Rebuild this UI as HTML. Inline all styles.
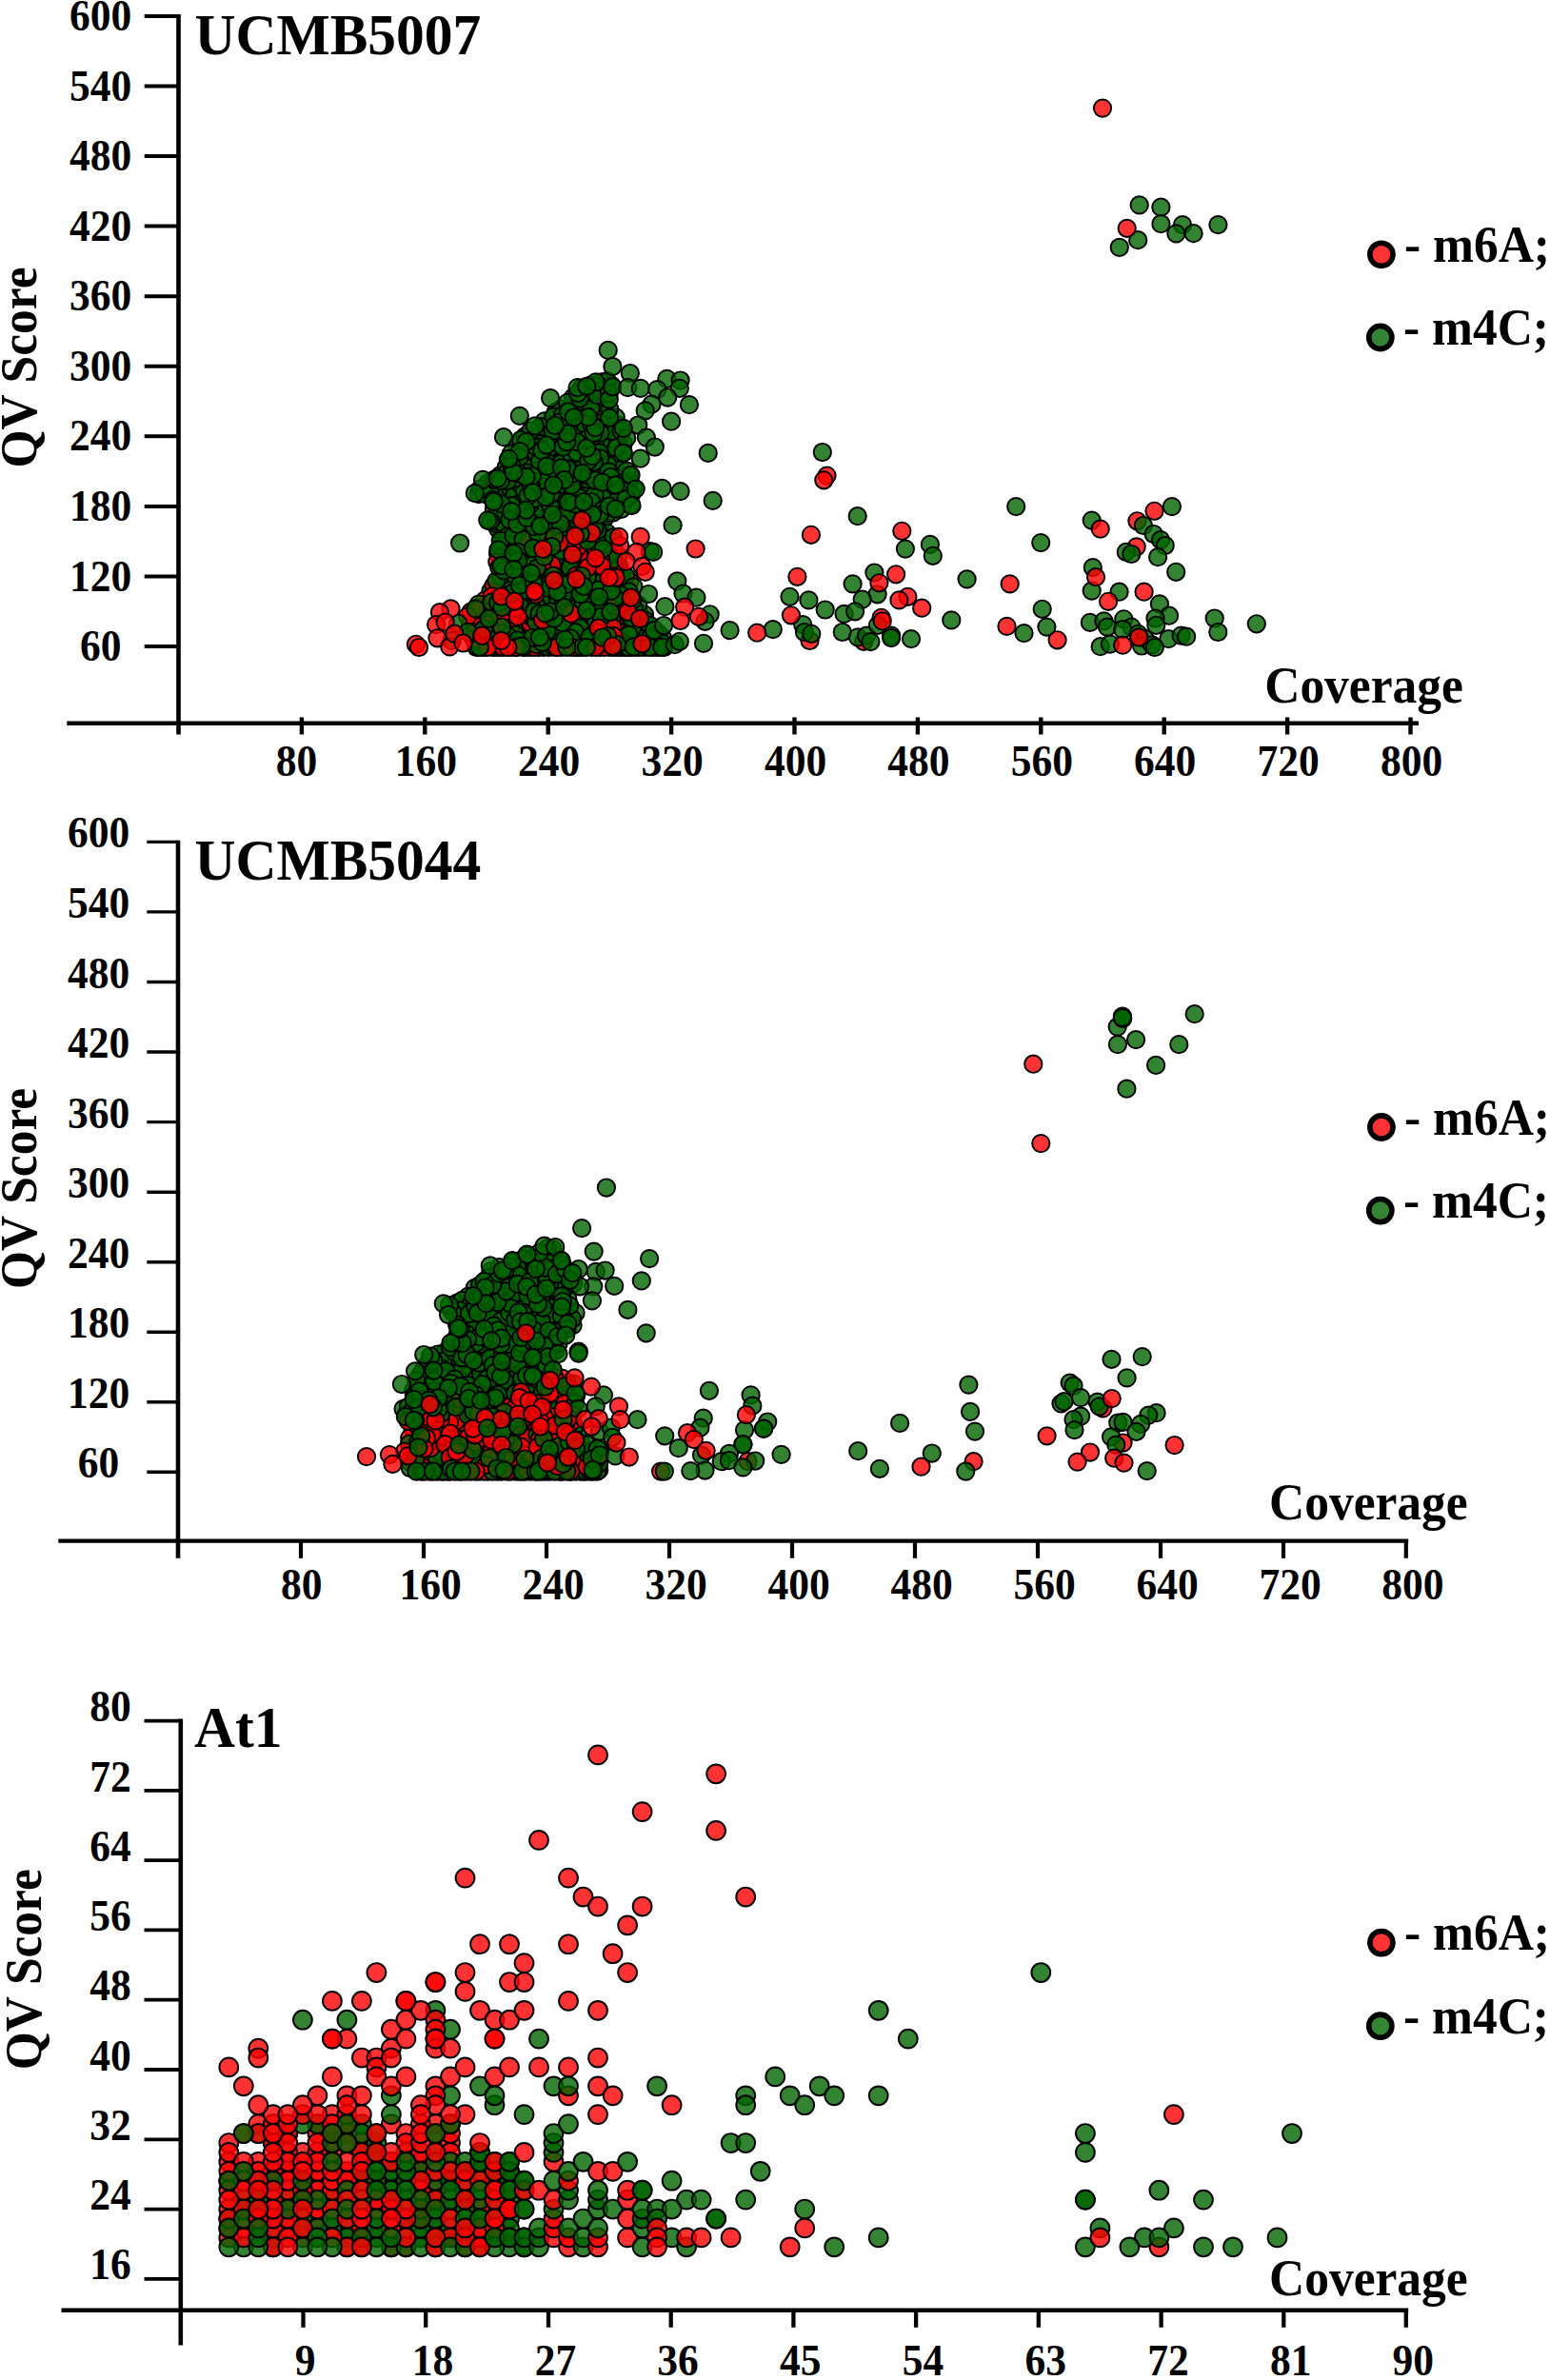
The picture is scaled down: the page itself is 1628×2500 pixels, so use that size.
<!DOCTYPE html>
<html lang="en">
<head>
<meta charset="utf-8">
<title>QV Score vs Coverage</title>
<style>
html,body{margin:0;padding:0;background:#fff;}
svg{display:block;}
.r{fill:#ff0000;}
.g{fill:#006400;}
#pts circle{fill-opacity:0.8;stroke:#000;stroke-width:1.95;}
</style>
</head>
<body>
<svg width="1628" height="2500" viewBox="0 0 1628 2500">
<rect width="1628" height="2500" fill="#fff"/>
<g id="pts">
<circle class="g" cx="607.3" cy="671.7" r="9.15"/><circle class="g" cx="564.1" cy="530.8" r="9.15"/><circle class="g" cx="563.7" cy="496.8" r="9.15"/><circle class="r" cx="537.8" cy="657.1" r="9.15"/><circle class="g" cx="631.5" cy="548.5" r="9.15"/><circle class="g" cx="688.5" cy="670.1" r="9.15"/><circle class="g" cx="568.1" cy="511.0" r="9.15"/><circle class="g" cx="517.7" cy="680.0" r="9.15"/><circle class="g" cx="624.2" cy="498.9" r="9.15"/><circle class="g" cx="648.1" cy="524.6" r="9.15"/><circle class="g" cx="644.6" cy="458.3" r="9.15"/><circle class="g" cx="546.1" cy="519.0" r="9.15"/><circle class="g" cx="526.7" cy="542.9" r="9.15"/><circle class="r" cx="615.0" cy="654.6" r="9.15"/><circle class="r" cx="504.8" cy="666.1" r="9.15"/><circle class="g" cx="609.9" cy="458.4" r="9.15"/><circle class="g" cx="583.9" cy="432.6" r="9.15"/><circle class="r" cx="657.0" cy="635.7" r="9.15"/><circle class="g" cx="623.0" cy="465.3" r="9.15"/><circle class="g" cx="553.3" cy="558.7" r="9.15"/><circle class="g" cx="609.1" cy="469.2" r="9.15"/><circle class="g" cx="493.6" cy="659.2" r="9.15"/><circle class="g" cx="624.4" cy="472.5" r="9.15"/><circle class="g" cx="630.4" cy="680.0" r="9.15"/><circle class="g" cx="627.3" cy="430.5" r="9.15"/><circle class="g" cx="585.0" cy="666.8" r="9.15"/><circle class="g" cx="622.6" cy="513.8" r="9.15"/><circle class="g" cx="638.3" cy="445.5" r="9.15"/><circle class="g" cx="629.0" cy="525.7" r="9.15"/><circle class="g" cx="566.4" cy="544.8" r="9.15"/><circle class="g" cx="632.2" cy="615.5" r="9.15"/><circle class="g" cx="639.1" cy="676.6" r="9.15"/><circle class="g" cx="589.0" cy="459.3" r="9.15"/><circle class="g" cx="662.7" cy="680.0" r="9.15"/><circle class="g" cx="621.5" cy="600.9" r="9.15"/><circle class="g" cx="578.0" cy="560.4" r="9.15"/><circle class="g" cx="612.6" cy="464.9" r="9.15"/><circle class="g" cx="543.4" cy="467.5" r="9.15"/><circle class="g" cx="588.4" cy="616.9" r="9.15"/><circle class="g" cx="586.5" cy="451.9" r="9.15"/><circle class="g" cx="506.8" cy="639.2" r="9.15"/><circle class="g" cx="584.9" cy="484.4" r="9.15"/><circle class="g" cx="515.5" cy="620.6" r="9.15"/><circle class="g" cx="545.7" cy="626.1" r="9.15"/><circle class="g" cx="639.5" cy="506.7" r="9.15"/><circle class="g" cx="598.4" cy="470.7" r="9.15"/><circle class="g" cx="634.6" cy="428.4" r="9.15"/><circle class="g" cx="547.3" cy="664.4" r="9.15"/><circle class="g" cx="584.6" cy="590.7" r="9.15"/><circle class="g" cx="633.1" cy="582.2" r="9.15"/><circle class="g" cx="635.2" cy="544.0" r="9.15"/><circle class="g" cx="524.1" cy="522.1" r="9.15"/><circle class="g" cx="603.6" cy="649.8" r="9.15"/><circle class="r" cx="495.2" cy="652.2" r="9.15"/><circle class="r" cx="548.1" cy="652.6" r="9.15"/><circle class="g" cx="531.3" cy="576.3" r="9.15"/><circle class="g" cx="567.3" cy="657.4" r="9.15"/><circle class="g" cx="636.3" cy="661.5" r="9.15"/><circle class="g" cx="570.5" cy="535.6" r="9.15"/><circle class="g" cx="559.6" cy="484.8" r="9.15"/><circle class="g" cx="550.3" cy="671.3" r="9.15"/><circle class="g" cx="592.7" cy="522.4" r="9.15"/><circle class="g" cx="640.6" cy="471.1" r="9.15"/><circle class="g" cx="649.8" cy="618.3" r="9.15"/><circle class="g" cx="677.7" cy="674.8" r="9.15"/><circle class="g" cx="560.8" cy="542.5" r="9.15"/><circle class="g" cx="590.8" cy="661.8" r="9.15"/><circle class="g" cx="624.4" cy="644.1" r="9.15"/><circle class="r" cx="517.2" cy="651.4" r="9.15"/><circle class="g" cx="616.1" cy="453.6" r="9.15"/><circle class="g" cx="606.5" cy="511.9" r="9.15"/><circle class="g" cx="628.0" cy="510.3" r="9.15"/><circle class="g" cx="634.4" cy="471.7" r="9.15"/><circle class="g" cx="604.7" cy="424.3" r="9.15"/><circle class="r" cx="508.1" cy="680.0" r="9.15"/><circle class="g" cx="554.6" cy="666.5" r="9.15"/><circle class="g" cx="595.4" cy="482.1" r="9.15"/><circle class="g" cx="634.9" cy="622.0" r="9.15"/><circle class="g" cx="640.3" cy="680.0" r="9.15"/><circle class="g" cx="571.8" cy="442.4" r="9.15"/><circle class="g" cx="574.9" cy="514.1" r="9.15"/><circle class="g" cx="635.9" cy="655.3" r="9.15"/><circle class="r" cx="610.7" cy="640.0" r="9.15"/><circle class="g" cx="583.6" cy="598.8" r="9.15"/><circle class="r" cx="510.1" cy="648.5" r="9.15"/><circle class="g" cx="594.2" cy="569.5" r="9.15"/><circle class="g" cx="697.4" cy="680.0" r="9.15"/><circle class="r" cx="610.0" cy="679.5" r="9.15"/><circle class="g" cx="581.2" cy="479.3" r="9.15"/><circle class="r" cx="518.6" cy="677.2" r="9.15"/><circle class="g" cx="644.2" cy="538.3" r="9.15"/><circle class="r" cx="596.1" cy="619.6" r="9.15"/><circle class="g" cx="633.3" cy="496.0" r="9.15"/><circle class="g" cx="609.5" cy="611.2" r="9.15"/><circle class="g" cx="551.4" cy="458.3" r="9.15"/><circle class="g" cx="636.6" cy="629.4" r="9.15"/><circle class="g" cx="605.7" cy="445.2" r="9.15"/><circle class="g" cx="579.9" cy="549.9" r="9.15"/><circle class="g" cx="569.0" cy="526.9" r="9.15"/><circle class="g" cx="588.1" cy="646.8" r="9.15"/><circle class="g" cx="588.3" cy="562.5" r="9.15"/><circle class="g" cx="615.7" cy="432.2" r="9.15"/><circle class="g" cx="550.3" cy="630.1" r="9.15"/><circle class="g" cx="624.1" cy="439.0" r="9.15"/><circle class="r" cx="522.5" cy="655.5" r="9.15"/><circle class="g" cx="539.1" cy="507.8" r="9.15"/><circle class="g" cx="634.3" cy="527.6" r="9.15"/><circle class="g" cx="545.0" cy="571.9" r="9.15"/><circle class="g" cx="582.1" cy="579.9" r="9.15"/><circle class="r" cx="503.4" cy="655.9" r="9.15"/><circle class="g" cx="522.3" cy="672.9" r="9.15"/><circle class="g" cx="654.1" cy="500.4" r="9.15"/><circle class="g" cx="561.8" cy="460.9" r="9.15"/><circle class="g" cx="534.0" cy="595.9" r="9.15"/><circle class="g" cx="665.6" cy="512.2" r="9.15"/><circle class="r" cx="671.1" cy="643.4" r="9.15"/><circle class="g" cx="610.1" cy="433.1" r="9.15"/><circle class="g" cx="583.4" cy="491.3" r="9.15"/><circle class="r" cx="633.3" cy="565.4" r="9.15"/><circle class="g" cx="523.0" cy="581.6" r="9.15"/><circle class="g" cx="636.7" cy="408.5" r="9.15"/><circle class="g" cx="604.4" cy="505.0" r="9.15"/><circle class="r" cx="590.1" cy="608.2" r="9.15"/><circle class="g" cx="639.6" cy="513.9" r="9.15"/><circle class="g" cx="649.9" cy="594.4" r="9.15"/><circle class="g" cx="584.7" cy="555.4" r="9.15"/><circle class="g" cx="574.9" cy="578.9" r="9.15"/><circle class="g" cx="538.3" cy="592.0" r="9.15"/><circle class="g" cx="633.4" cy="419.3" r="9.15"/><circle class="g" cx="574.5" cy="544.7" r="9.15"/><circle class="g" cx="571.3" cy="610.2" r="9.15"/><circle class="g" cx="539.5" cy="570.4" r="9.15"/><circle class="g" cx="500.4" cy="678.4" r="9.15"/><circle class="g" cx="604.7" cy="680.0" r="9.15"/><circle class="g" cx="669.7" cy="662.2" r="9.15"/><circle class="g" cx="571.2" cy="452.9" r="9.15"/><circle class="g" cx="542.9" cy="610.2" r="9.15"/><circle class="g" cx="659.8" cy="673.9" r="9.15"/><circle class="g" cx="575.7" cy="473.7" r="9.15"/><circle class="r" cx="661.4" cy="610.7" r="9.15"/><circle class="g" cx="556.7" cy="677.7" r="9.15"/><circle class="g" cx="549.1" cy="524.8" r="9.15"/><circle class="g" cx="591.8" cy="591.8" r="9.15"/><circle class="g" cx="652.6" cy="680.0" r="9.15"/><circle class="g" cx="528.5" cy="584.2" r="9.15"/><circle class="g" cx="629.9" cy="500.7" r="9.15"/><circle class="g" cx="650.9" cy="458.5" r="9.15"/><circle class="r" cx="499.8" cy="647.2" r="9.15"/><circle class="g" cx="567.8" cy="663.2" r="9.15"/><circle class="g" cx="579.4" cy="584.8" r="9.15"/><circle class="r" cx="638.4" cy="587.8" r="9.15"/><circle class="g" cx="627.3" cy="459.4" r="9.15"/><circle class="g" cx="572.3" cy="461.9" r="9.15"/><circle class="g" cx="655.2" cy="614.9" r="9.15"/><circle class="g" cx="661.4" cy="499.9" r="9.15"/><circle class="g" cx="600.8" cy="448.6" r="9.15"/><circle class="g" cx="649.7" cy="478.2" r="9.15"/><circle class="g" cx="635.7" cy="450.6" r="9.15"/><circle class="r" cx="509.3" cy="630.6" r="9.15"/><circle class="g" cx="520.2" cy="680.0" r="9.15"/><circle class="r" cx="572.8" cy="571.9" r="9.15"/><circle class="g" cx="548.2" cy="644.1" r="9.15"/><circle class="r" cx="589.4" cy="601.2" r="9.15"/><circle class="g" cx="618.5" cy="494.1" r="9.15"/><circle class="g" cx="653.1" cy="671.8" r="9.15"/><circle class="g" cx="677.0" cy="645.7" r="9.15"/><circle class="g" cx="612.6" cy="648.6" r="9.15"/><circle class="g" cx="552.8" cy="471.5" r="9.15"/><circle class="g" cx="562.8" cy="536.7" r="9.15"/><circle class="g" cx="637.2" cy="600.6" r="9.15"/><circle class="g" cx="631.2" cy="633.5" r="9.15"/><circle class="g" cx="649.2" cy="583.8" r="9.15"/><circle class="r" cx="576.1" cy="650.7" r="9.15"/><circle class="g" cx="648.8" cy="446.5" r="9.15"/><circle class="g" cx="618.4" cy="545.0" r="9.15"/><circle class="g" cx="583.6" cy="639.1" r="9.15"/><circle class="r" cx="534.1" cy="678.8" r="9.15"/><circle class="g" cx="662.8" cy="529.9" r="9.15"/><circle class="r" cx="540.0" cy="616.4" r="9.15"/><circle class="g" cx="588.2" cy="634.7" r="9.15"/><circle class="g" cx="638.2" cy="616.3" r="9.15"/><circle class="g" cx="549.1" cy="530.7" r="9.15"/><circle class="g" cx="585.0" cy="517.3" r="9.15"/><circle class="g" cx="654.8" cy="465.6" r="9.15"/><circle class="g" cx="609.7" cy="541.1" r="9.15"/><circle class="g" cx="577.3" cy="446.0" r="9.15"/><circle class="g" cx="597.9" cy="580.1" r="9.15"/><circle class="g" cx="587.6" cy="476.7" r="9.15"/><circle class="g" cx="590.1" cy="678.5" r="9.15"/><circle class="g" cx="597.4" cy="519.3" r="9.15"/><circle class="g" cx="587.3" cy="523.9" r="9.15"/><circle class="g" cx="546.9" cy="561.6" r="9.15"/><circle class="g" cx="655.8" cy="656.1" r="9.15"/><circle class="r" cx="629.3" cy="600.0" r="9.15"/><circle class="g" cx="615.0" cy="622.0" r="9.15"/><circle class="g" cx="601.4" cy="656.0" r="9.15"/><circle class="g" cx="629.5" cy="467.3" r="9.15"/><circle class="g" cx="610.5" cy="505.0" r="9.15"/><circle class="g" cx="631.7" cy="401.3" r="9.15"/><circle class="g" cx="556.5" cy="530.1" r="9.15"/><circle class="g" cx="594.7" cy="443.5" r="9.15"/><circle class="g" cx="602.0" cy="489.2" r="9.15"/><circle class="g" cx="542.1" cy="568.7" r="9.15"/><circle class="g" cx="686.2" cy="678.9" r="9.15"/><circle class="g" cx="636.8" cy="461.8" r="9.15"/><circle class="r" cx="621.1" cy="624.2" r="9.15"/><circle class="g" cx="566.7" cy="456.4" r="9.15"/><circle class="g" cx="660.8" cy="505.7" r="9.15"/><circle class="g" cx="636.2" cy="635.9" r="9.15"/><circle class="g" cx="550.9" cy="593.1" r="9.15"/><circle class="g" cx="638.0" cy="481.2" r="9.15"/><circle class="g" cx="556.5" cy="564.9" r="9.15"/><circle class="g" cx="637.6" cy="559.8" r="9.15"/><circle class="g" cx="602.0" cy="522.4" r="9.15"/><circle class="g" cx="551.7" cy="572.0" r="9.15"/><circle class="g" cx="567.3" cy="577.8" r="9.15"/><circle class="g" cx="666.0" cy="654.7" r="9.15"/><circle class="r" cx="525.0" cy="680.0" r="9.15"/><circle class="g" cx="645.9" cy="497.5" r="9.15"/><circle class="g" cx="598.5" cy="503.8" r="9.15"/><circle class="g" cx="620.7" cy="404.4" r="9.15"/><circle class="g" cx="551.5" cy="552.1" r="9.15"/><circle class="r" cx="551.9" cy="661.1" r="9.15"/><circle class="g" cx="512.5" cy="642.2" r="9.15"/><circle class="g" cx="599.2" cy="638.7" r="9.15"/><circle class="g" cx="588.5" cy="561.3" r="9.15"/><circle class="g" cx="531.5" cy="518.8" r="9.15"/><circle class="g" cx="594.5" cy="475.6" r="9.15"/><circle class="g" cx="614.1" cy="513.7" r="9.15"/><circle class="g" cx="579.3" cy="679.2" r="9.15"/><circle class="g" cx="533.3" cy="603.8" r="9.15"/><circle class="g" cx="624.6" cy="672.4" r="9.15"/><circle class="g" cx="634.7" cy="610.1" r="9.15"/><circle class="g" cx="585.0" cy="466.7" r="9.15"/><circle class="g" cx="603.2" cy="615.4" r="9.15"/><circle class="g" cx="573.0" cy="670.3" r="9.15"/><circle class="g" cx="639.9" cy="573.2" r="9.15"/><circle class="g" cx="591.6" cy="543.1" r="9.15"/><circle class="g" cx="652.9" cy="609.1" r="9.15"/><circle class="g" cx="610.2" cy="479.5" r="9.15"/><circle class="g" cx="547.4" cy="503.4" r="9.15"/><circle class="g" cx="578.1" cy="484.8" r="9.15"/><circle class="g" cx="642.0" cy="404.6" r="9.15"/><circle class="g" cx="589.1" cy="429.6" r="9.15"/><circle class="g" cx="604.1" cy="622.9" r="9.15"/><circle class="g" cx="602.5" cy="458.5" r="9.15"/><circle class="g" cx="585.5" cy="538.0" r="9.15"/><circle class="g" cx="595.6" cy="555.7" r="9.15"/><circle class="g" cx="643.0" cy="464.9" r="9.15"/><circle class="r" cx="522.3" cy="590.3" r="9.15"/><circle class="g" cx="543.5" cy="541.4" r="9.15"/><circle class="g" cx="512.5" cy="507.4" r="9.15"/><circle class="r" cx="615.7" cy="677.8" r="9.15"/><circle class="r" cx="518.2" cy="645.2" r="9.15"/><circle class="g" cx="593.9" cy="563.5" r="9.15"/><circle class="r" cx="513.3" cy="656.0" r="9.15"/><circle class="r" cx="611.8" cy="598.2" r="9.15"/><circle class="r" cx="519.9" cy="667.5" r="9.15"/><circle class="r" cx="614.2" cy="577.7" r="9.15"/><circle class="r" cx="634.8" cy="680.0" r="9.15"/><circle class="g" cx="654.1" cy="528.6" r="9.15"/><circle class="g" cx="502.7" cy="519.0" r="9.15"/><circle class="r" cx="552.6" cy="648.8" r="9.15"/><circle class="g" cx="528.3" cy="513.7" r="9.15"/><circle class="g" cx="597.1" cy="548.9" r="9.15"/><circle class="g" cx="545.1" cy="490.8" r="9.15"/><circle class="g" cx="533.9" cy="483.3" r="9.15"/><circle class="g" cx="543.6" cy="657.4" r="9.15"/><circle class="g" cx="656.7" cy="650.5" r="9.15"/><circle class="g" cx="572.6" cy="480.9" r="9.15"/><circle class="r" cx="571.3" cy="638.6" r="9.15"/><circle class="r" cx="535.6" cy="662.4" r="9.15"/><circle class="g" cx="596.2" cy="605.0" r="9.15"/><circle class="g" cx="522.2" cy="509.9" r="9.15"/><circle class="g" cx="541.4" cy="666.7" r="9.15"/><circle class="g" cx="644.2" cy="477.3" r="9.15"/><circle class="g" cx="619.4" cy="506.3" r="9.15"/><circle class="g" cx="529.1" cy="652.8" r="9.15"/><circle class="g" cx="633.7" cy="438.9" r="9.15"/><circle class="g" cx="527.4" cy="561.1" r="9.15"/><circle class="g" cx="646.8" cy="487.6" r="9.15"/><circle class="g" cx="610.8" cy="407.7" r="9.15"/><circle class="g" cx="566.9" cy="465.1" r="9.15"/><circle class="g" cx="655.1" cy="662.3" r="9.15"/><circle class="g" cx="582.9" cy="614.0" r="9.15"/><circle class="g" cx="605.4" cy="517.9" r="9.15"/><circle class="g" cx="532.3" cy="525.3" r="9.15"/><circle class="g" cx="637.8" cy="400.1" r="9.15"/><circle class="g" cx="536.9" cy="476.3" r="9.15"/><circle class="g" cx="629.6" cy="475.4" r="9.15"/><circle class="g" cx="559.4" cy="559.1" r="9.15"/><circle class="g" cx="523.1" cy="642.3" r="9.15"/><circle class="g" cx="605.7" cy="483.7" r="9.15"/><circle class="g" cx="625.1" cy="567.7" r="9.15"/><circle class="g" cx="607.4" cy="680.0" r="9.15"/><circle class="g" cx="502.9" cy="634.5" r="9.15"/><circle class="g" cx="523.0" cy="516.0" r="9.15"/><circle class="g" cx="632.0" cy="433.6" r="9.15"/><circle class="g" cx="557.9" cy="469.1" r="9.15"/><circle class="g" cx="536.1" cy="513.1" r="9.15"/><circle class="g" cx="630.2" cy="519.9" r="9.15"/><circle class="g" cx="626.4" cy="406.1" r="9.15"/><circle class="g" cx="543.6" cy="535.7" r="9.15"/><circle class="g" cx="555.0" cy="493.3" r="9.15"/><circle class="g" cx="523.0" cy="555.5" r="9.15"/><circle class="g" cx="534.4" cy="566.8" r="9.15"/><circle class="g" cx="539.9" cy="482.9" r="9.15"/><circle class="g" cx="585.5" cy="529.9" r="9.15"/><circle class="g" cx="581.3" cy="437.6" r="9.15"/><circle class="g" cx="542.1" cy="513.6" r="9.15"/><circle class="g" cx="540.4" cy="520.6" r="9.15"/><circle class="g" cx="592.9" cy="450.3" r="9.15"/><circle class="g" cx="577.7" cy="502.8" r="9.15"/><circle class="g" cx="609.3" cy="451.6" r="9.15"/><circle class="g" cx="581.1" cy="630.3" r="9.15"/><circle class="g" cx="543.1" cy="530.1" r="9.15"/><circle class="r" cx="557.8" cy="629.0" r="9.15"/><circle class="g" cx="568.1" cy="517.2" r="9.15"/><circle class="g" cx="570.8" cy="498.2" r="9.15"/><circle class="r" cx="537.9" cy="578.5" r="9.15"/><circle class="g" cx="676.9" cy="680.0" r="9.15"/><circle class="g" cx="598.1" cy="679.4" r="9.15"/><circle class="g" cx="632.0" cy="514.3" r="9.15"/><circle class="g" cx="590.8" cy="535.7" r="9.15"/><circle class="g" cx="652.5" cy="493.2" r="9.15"/><circle class="g" cx="621.5" cy="680.0" r="9.15"/><circle class="g" cx="520.9" cy="550.2" r="9.15"/><circle class="g" cx="579.3" cy="460.6" r="9.15"/><circle class="g" cx="590.4" cy="514.5" r="9.15"/><circle class="g" cx="641.9" cy="521.1" r="9.15"/><circle class="g" cx="604.1" cy="552.6" r="9.15"/><circle class="g" cx="655.8" cy="678.8" r="9.15"/><circle class="g" cx="695.7" cy="669.7" r="9.15"/><circle class="r" cx="536.5" cy="629.0" r="9.15"/><circle class="g" cx="525.6" cy="499.2" r="9.15"/><circle class="r" cx="576.0" cy="598.6" r="9.15"/><circle class="g" cx="640.7" cy="595.0" r="9.15"/><circle class="g" cx="530.2" cy="555.1" r="9.15"/><circle class="g" cx="645.4" cy="570.2" r="9.15"/><circle class="r" cx="526.9" cy="664.6" r="9.15"/><circle class="g" cx="653.0" cy="512.8" r="9.15"/><circle class="g" cx="606.2" cy="629.5" r="9.15"/><circle class="g" cx="631.5" cy="444.5" r="9.15"/><circle class="g" cx="614.9" cy="489.7" r="9.15"/><circle class="g" cx="564.9" cy="490.2" r="9.15"/><circle class="g" cx="531.3" cy="611.9" r="9.15"/><circle class="g" cx="652.9" cy="601.6" r="9.15"/><circle class="g" cx="546.9" cy="509.3" r="9.15"/><circle class="g" cx="571.0" cy="561.2" r="9.15"/><circle class="r" cx="595.6" cy="633.0" r="9.15"/><circle class="g" cx="546.6" cy="546.2" r="9.15"/><circle class="g" cx="616.6" cy="476.6" r="9.15"/><circle class="r" cx="617.0" cy="584.0" r="9.15"/><circle class="g" cx="619.6" cy="574.5" r="9.15"/><circle class="g" cx="552.1" cy="484.5" r="9.15"/><circle class="g" cx="560.8" cy="588.9" r="9.15"/><circle class="g" cx="599.5" cy="427.5" r="9.15"/><circle class="g" cx="658.6" cy="515.2" r="9.15"/><circle class="g" cx="638.2" cy="488.3" r="9.15"/><circle class="g" cx="663.0" cy="519.6" r="9.15"/><circle class="g" cx="570.1" cy="600.3" r="9.15"/><circle class="g" cx="585.5" cy="545.2" r="9.15"/><circle class="r" cx="662.9" cy="636.1" r="9.15"/><circle class="g" cx="602.6" cy="675.6" r="9.15"/><circle class="g" cx="649.0" cy="502.9" r="9.15"/><circle class="g" cx="609.4" cy="568.1" r="9.15"/><circle class="g" cx="600.6" cy="609.8" r="9.15"/><circle class="g" cx="617.4" cy="531.5" r="9.15"/><circle class="g" cx="607.9" cy="490.0" r="9.15"/><circle class="g" cx="574.4" cy="507.5" r="9.15"/><circle class="g" cx="585.8" cy="500.1" r="9.15"/><circle class="g" cx="649.7" cy="642.7" r="9.15"/><circle class="g" cx="625.8" cy="533.4" r="9.15"/><circle class="g" cx="586.0" cy="672.6" r="9.15"/><circle class="g" cx="571.0" cy="680.0" r="9.15"/><circle class="g" cx="591.1" cy="435.8" r="9.15"/><circle class="g" cx="649.3" cy="680.0" r="9.15"/><circle class="g" cx="594.1" cy="585.6" r="9.15"/><circle class="g" cx="657.2" cy="605.3" r="9.15"/><circle class="g" cx="624.8" cy="424.6" r="9.15"/><circle class="g" cx="646.6" cy="531.8" r="9.15"/><circle class="g" cx="602.0" cy="541.5" r="9.15"/><circle class="r" cx="524.0" cy="679.2" r="9.15"/><circle class="g" cx="536.1" cy="554.8" r="9.15"/><circle class="r" cx="678.6" cy="663.2" r="9.15"/><circle class="g" cx="595.6" cy="649.0" r="9.15"/><circle class="g" cx="580.7" cy="661.8" r="9.15"/><circle class="r" cx="499.4" cy="664.5" r="9.15"/><circle class="g" cx="527.6" cy="548.9" r="9.15"/><circle class="r" cx="524.5" cy="616.8" r="9.15"/><circle class="g" cx="611.9" cy="561.3" r="9.15"/><circle class="g" cx="649.9" cy="655.5" r="9.15"/><circle class="g" cx="581.5" cy="525.1" r="9.15"/><circle class="g" cx="543.8" cy="566.2" r="9.15"/><circle class="g" cx="615.3" cy="556.8" r="9.15"/><circle class="g" cx="566.0" cy="680.0" r="9.15"/><circle class="g" cx="656.9" cy="680.0" r="9.15"/><circle class="g" cx="560.4" cy="663.5" r="9.15"/><circle class="g" cx="631.4" cy="490.2" r="9.15"/><circle class="r" cx="565.4" cy="571.5" r="9.15"/><circle class="g" cx="606.2" cy="546.8" r="9.15"/><circle class="g" cx="533.7" cy="668.3" r="9.15"/><circle class="g" cx="648.7" cy="464.6" r="9.15"/><circle class="g" cx="594.0" cy="510.1" r="9.15"/><circle class="r" cx="620.0" cy="591.1" r="9.15"/><circle class="g" cx="567.6" cy="448.1" r="9.15"/><circle class="r" cx="540.5" cy="677.6" r="9.15"/><circle class="r" cx="639.1" cy="648.9" r="9.15"/><circle class="g" cx="578.1" cy="531.1" r="9.15"/><circle class="r" cx="494.6" cy="642.6" r="9.15"/><circle class="g" cx="658.2" cy="494.6" r="9.15"/><circle class="g" cx="547.3" cy="599.8" r="9.15"/><circle class="g" cx="614.5" cy="521.2" r="9.15"/><circle class="g" cx="531.9" cy="490.4" r="9.15"/><circle class="g" cx="555.3" cy="479.0" r="9.15"/><circle class="g" cx="559.2" cy="567.3" r="9.15"/><circle class="g" cx="636.2" cy="521.9" r="9.15"/><circle class="r" cx="651.9" cy="631.6" r="9.15"/><circle class="g" cx="590.6" cy="485.3" r="9.15"/><circle class="r" cx="536.1" cy="680.0" r="9.15"/><circle class="r" cx="649.8" cy="637.0" r="9.15"/><circle class="g" cx="588.3" cy="585.4" r="9.15"/><circle class="g" cx="535.4" cy="642.9" r="9.15"/><circle class="g" cx="595.9" cy="657.5" r="9.15"/><circle class="g" cx="533.3" cy="563.5" r="9.15"/><circle class="r" cx="642.1" cy="635.5" r="9.15"/><circle class="g" cx="652.7" cy="534.8" r="9.15"/><circle class="g" cx="608.4" cy="522.9" r="9.15"/><circle class="r" cx="610.6" cy="665.6" r="9.15"/><circle class="g" cx="567.3" cy="605.4" r="9.15"/><circle class="r" cx="518.2" cy="638.1" r="9.15"/><circle class="g" cx="600.7" cy="477.8" r="9.15"/><circle class="g" cx="667.6" cy="669.4" r="9.15"/><circle class="r" cx="643.9" cy="577.3" r="9.15"/><circle class="g" cx="579.6" cy="672.1" r="9.15"/><circle class="g" cx="574.7" cy="553.3" r="9.15"/><circle class="r" cx="619.6" cy="630.9" r="9.15"/><circle class="g" cx="649.7" cy="517.4" r="9.15"/><circle class="g" cx="667.7" cy="680.0" r="9.15"/><circle class="g" cx="528.7" cy="674.4" r="9.15"/><circle class="r" cx="625.4" cy="664.8" r="9.15"/><circle class="g" cx="567.5" cy="615.5" r="9.15"/><circle class="g" cx="552.1" cy="680.0" r="9.15"/><circle class="g" cx="665.4" cy="616.4" r="9.15"/><circle class="g" cx="621.1" cy="414.3" r="9.15"/><circle class="g" cx="657.5" cy="523.7" r="9.15"/><circle class="r" cx="500.6" cy="640.7" r="9.15"/><circle class="g" cx="623.6" cy="637.0" r="9.15"/><circle class="g" cx="617.1" cy="663.5" r="9.15"/><circle class="g" cx="625.1" cy="548.8" r="9.15"/><circle class="g" cx="553.0" cy="610.5" r="9.15"/><circle class="g" cx="557.4" cy="452.5" r="9.15"/><circle class="r" cx="515.2" cy="662.3" r="9.15"/><circle class="g" cx="638.9" cy="566.9" r="9.15"/><circle class="g" cx="530.1" cy="632.7" r="9.15"/><circle class="g" cx="500.6" cy="680.0" r="9.15"/><circle class="g" cx="595.0" cy="665.9" r="9.15"/><circle class="r" cx="542.4" cy="631.9" r="9.15"/><circle class="g" cx="616.8" cy="499.5" r="9.15"/><circle class="r" cx="536.3" cy="649.5" r="9.15"/><circle class="r" cx="575.5" cy="606.1" r="9.15"/><circle class="g" cx="562.9" cy="476.6" r="9.15"/><circle class="g" cx="620.5" cy="420.9" r="9.15"/><circle class="g" cx="613.7" cy="672.1" r="9.15"/><circle class="g" cx="598.5" cy="533.3" r="9.15"/><circle class="g" cx="613.6" cy="591.8" r="9.15"/><circle class="g" cx="556.9" cy="622.3" r="9.15"/><circle class="g" cx="606.3" cy="475.4" r="9.15"/><circle class="g" cx="609.7" cy="440.2" r="9.15"/><circle class="g" cx="598.8" cy="628.2" r="9.15"/><circle class="g" cx="606.6" cy="593.9" r="9.15"/><circle class="g" cx="603.9" cy="431.1" r="9.15"/><circle class="g" cx="563.5" cy="469.6" r="9.15"/><circle class="g" cx="587.7" cy="509.3" r="9.15"/><circle class="g" cx="564.1" cy="583.0" r="9.15"/><circle class="r" cx="549.4" cy="565.2" r="9.15"/><circle class="g" cx="576.0" cy="656.8" r="9.15"/><circle class="g" cx="518.9" cy="535.4" r="9.15"/><circle class="r" cx="657.9" cy="630.0" r="9.15"/><circle class="g" cx="534.3" cy="585.5" r="9.15"/><circle class="g" cx="645.0" cy="613.5" r="9.15"/><circle class="r" cx="629.7" cy="606.2" r="9.15"/><circle class="g" cx="553.4" cy="507.8" r="9.15"/><circle class="r" cx="647.4" cy="649.5" r="9.15"/><circle class="g" cx="530.2" cy="535.4" r="9.15"/><circle class="g" cx="646.7" cy="438.3" r="9.15"/><circle class="g" cx="670.3" cy="635.2" r="9.15"/><circle class="g" cx="575.7" cy="626.9" r="9.15"/><circle class="r" cx="621.8" cy="654.5" r="9.15"/><circle class="r" cx="557.2" cy="655.0" r="9.15"/><circle class="g" cx="561.8" cy="447.3" r="9.15"/><circle class="g" cx="640.3" cy="429.8" r="9.15"/><circle class="r" cx="630.4" cy="654.1" r="9.15"/><circle class="g" cx="533.0" cy="495.9" r="9.15"/><circle class="g" cx="576.4" cy="680.0" r="9.15"/><circle class="r" cx="548.6" cy="605.4" r="9.15"/><circle class="g" cx="565.2" cy="566.0" r="9.15"/><circle class="g" cx="606.4" cy="536.0" r="9.15"/><circle class="g" cx="543.7" cy="556.7" r="9.15"/><circle class="g" cx="504.7" cy="513.5" r="9.15"/><circle class="g" cx="552.6" cy="638.2" r="9.15"/><circle class="g" cx="514.0" cy="670.9" r="9.15"/><circle class="r" cx="685.1" cy="680.0" r="9.15"/><circle class="g" cx="609.9" cy="427.2" r="9.15"/><circle class="r" cx="645.8" cy="599.6" r="9.15"/><circle class="g" cx="642.7" cy="452.9" r="9.15"/><circle class="g" cx="639.3" cy="581.0" r="9.15"/><circle class="g" cx="620.4" cy="648.7" r="9.15"/><circle class="g" cx="514.7" cy="515.6" r="9.15"/><circle class="g" cx="624.5" cy="520.4" r="9.15"/><circle class="g" cx="640.2" cy="438.8" r="9.15"/><circle class="g" cx="536.0" cy="634.7" r="9.15"/><circle class="r" cx="579.8" cy="593.6" r="9.15"/><circle class="g" cx="592.0" cy="496.6" r="9.15"/><circle class="g" cx="602.0" cy="417.4" r="9.15"/><circle class="g" cx="619.1" cy="617.6" r="9.15"/><circle class="g" cx="560.5" cy="524.3" r="9.15"/><circle class="g" cx="600.1" cy="589.8" r="9.15"/><circle class="g" cx="619.0" cy="551.0" r="9.15"/><circle class="g" cx="652.5" cy="452.6" r="9.15"/><circle class="r" cx="530.6" cy="621.1" r="9.15"/><circle class="g" cx="545.6" cy="480.1" r="9.15"/><circle class="g" cx="630.4" cy="481.4" r="9.15"/><circle class="r" cx="609.6" cy="585.6" r="9.15"/><circle class="g" cx="578.7" cy="519.3" r="9.15"/><circle class="g" cx="556.8" cy="680.0" r="9.15"/><circle class="r" cx="508.5" cy="673.8" r="9.15"/><circle class="r" cx="518.5" cy="615.1" r="9.15"/><circle class="g" cx="579.4" cy="469.3" r="9.15"/><circle class="g" cx="631.0" cy="410.6" r="9.15"/><circle class="g" cx="560.1" cy="505.7" r="9.15"/><circle class="r" cx="626.0" cy="579.3" r="9.15"/><circle class="r" cx="512.9" cy="678.8" r="9.15"/><circle class="g" cx="585.0" cy="657.5" r="9.15"/><circle class="g" cx="604.4" cy="562.6" r="9.15"/><circle class="g" cx="634.9" cy="641.7" r="9.15"/><circle class="r" cx="497.8" cy="671.4" r="9.15"/><circle class="g" cx="597.9" cy="574.3" r="9.15"/><circle class="r" cx="669.8" cy="675.5" r="9.15"/><circle class="g" cx="628.7" cy="677.0" r="9.15"/><circle class="g" cx="653.3" cy="507.1" r="9.15"/><circle class="g" cx="566.8" cy="484.5" r="9.15"/><circle class="g" cx="644.1" cy="587.6" r="9.15"/><circle class="g" cx="573.0" cy="522.1" r="9.15"/><circle class="g" cx="520.8" cy="541.6" r="9.15"/><circle class="g" cx="628.6" cy="572.2" r="9.15"/><circle class="g" cx="625.6" cy="492.9" r="9.15"/><circle class="g" cx="660.5" cy="621.5" r="9.15"/><circle class="g" cx="577.3" cy="612.0" r="9.15"/><circle class="g" cx="628.2" cy="562.8" r="9.15"/><circle class="g" cx="525.6" cy="573.7" r="9.15"/><circle class="g" cx="652.0" cy="624.9" r="9.15"/><circle class="r" cx="589.7" cy="680.0" r="9.15"/><circle class="g" cx="589.9" cy="578.5" r="9.15"/><circle class="g" cx="582.1" cy="680.0" r="9.15"/><circle class="g" cx="580.6" cy="452.8" r="9.15"/><circle class="r" cx="648.9" cy="663.4" r="9.15"/><circle class="g" cx="607.9" cy="653.6" r="9.15"/><circle class="g" cx="643.2" cy="653.4" r="9.15"/><circle class="g" cx="508.9" cy="518.9" r="9.15"/><circle class="g" cx="586.2" cy="628.1" r="9.15"/><circle class="g" cx="576.5" cy="495.2" r="9.15"/><circle class="g" cx="537.2" cy="610.9" r="9.15"/><circle class="g" cx="587.9" cy="443.4" r="9.15"/><circle class="g" cx="569.2" cy="473.2" r="9.15"/><circle class="g" cx="671.5" cy="655.7" r="9.15"/><circle class="g" cx="644.4" cy="564.1" r="9.15"/><circle class="g" cx="596.1" cy="422.9" r="9.15"/><circle class="g" cx="687.2" cy="661.3" r="9.15"/><circle class="g" cx="645.8" cy="628.0" r="9.15"/><circle class="g" cx="625.8" cy="612.3" r="9.15"/><circle class="r" cx="651.1" cy="573.1" r="9.15"/><circle class="r" cx="606.1" cy="644.8" r="9.15"/><circle class="r" cx="523.5" cy="627.3" r="9.15"/><circle class="g" cx="673.6" cy="668.6" r="9.15"/><circle class="g" cx="663.9" cy="660.2" r="9.15"/><circle class="g" cx="525.7" cy="605.5" r="9.15"/><circle class="g" cx="627.6" cy="557.1" r="9.15"/><circle class="g" cx="666.2" cy="640.7" r="9.15"/><circle class="g" cx="600.4" cy="509.9" r="9.15"/><circle class="g" cx="560.7" cy="607.3" r="9.15"/><circle class="g" cx="550.9" cy="515.9" r="9.15"/><circle class="g" cx="621.4" cy="527.3" r="9.15"/><circle class="g" cx="541.1" cy="502.5" r="9.15"/><circle class="g" cx="609.1" cy="659.5" r="9.15"/><circle class="g" cx="525.7" cy="568.0" r="9.15"/><circle class="g" cx="601.5" cy="497.5" r="9.15"/><circle class="g" cx="530.5" cy="590.7" r="9.15"/><circle class="g" cx="638.2" cy="538.9" r="9.15"/><circle class="g" cx="537.5" cy="489.4" r="9.15"/><circle class="g" cx="573.8" cy="632.7" r="9.15"/><circle class="g" cx="639.2" cy="495.4" r="9.15"/><circle class="g" cx="521.4" cy="610.1" r="9.15"/><circle class="g" cx="568.7" cy="504.4" r="9.15"/><circle class="g" cx="557.9" cy="511.1" r="9.15"/><circle class="g" cx="645.0" cy="680.0" r="9.15"/><circle class="g" cx="565.7" cy="564.9" r="9.15"/><circle class="r" cx="525.7" cy="647.4" r="9.15"/><circle class="r" cx="643.5" cy="659.2" r="9.15"/><circle class="g" cx="568.1" cy="624.0" r="9.15"/><circle class="g" cx="543.7" cy="672.5" r="9.15"/><circle class="g" cx="603.8" cy="558.3" r="9.15"/><circle class="g" cx="537.3" cy="531.2" r="9.15"/><circle class="g" cx="602.4" cy="633.9" r="9.15"/><circle class="g" cx="532.4" cy="505.4" r="9.15"/><circle class="g" cx="541.7" cy="597.5" r="9.15"/><circle class="r" cx="606.5" cy="575.1" r="9.15"/><circle class="r" cx="561.2" cy="680.0" r="9.15"/><circle class="g" cx="620.1" cy="559.8" r="9.15"/><circle class="g" cx="526.6" cy="529.3" r="9.15"/><circle class="g" cx="613.9" cy="445.0" r="9.15"/><circle class="g" cx="628.9" cy="639.5" r="9.15"/><circle class="g" cx="539.3" cy="562.6" r="9.15"/><circle class="g" cx="601.7" cy="584.3" r="9.15"/><circle class="g" cx="627.8" cy="619.6" r="9.15"/><circle class="r" cx="626.2" cy="595.1" r="9.15"/><circle class="g" cx="631.7" cy="647.8" r="9.15"/><circle class="g" cx="617.0" cy="606.0" r="9.15"/><circle class="g" cx="517.8" cy="525.2" r="9.15"/><circle class="g" cx="527.1" cy="658.7" r="9.15"/><circle class="g" cx="557.1" cy="548.5" r="9.15"/><circle class="r" cx="558.2" cy="647.9" r="9.15"/><circle class="g" cx="568.2" cy="630.4" r="9.15"/><circle class="g" cx="508.2" cy="660.7" r="9.15"/><circle class="r" cx="516.7" cy="626.3" r="9.15"/><circle class="r" cx="585.0" cy="680.0" r="9.15"/><circle class="g" cx="677.5" cy="651.5" r="9.15"/><circle class="g" cx="549.5" cy="680.0" r="9.15"/><circle class="g" cx="620.8" cy="444.3" r="9.15"/><circle class="g" cx="641.9" cy="620.8" r="9.15"/><circle class="g" cx="563.0" cy="635.5" r="9.15"/><circle class="g" cx="616.7" cy="408.8" r="9.15"/><circle class="g" cx="595.6" cy="538.8" r="9.15"/><circle class="g" cx="604.2" cy="664.2" r="9.15"/><circle class="g" cx="524.2" cy="596.1" r="9.15"/><circle class="g" cx="557.8" cy="594.3" r="9.15"/><circle class="g" cx="672.2" cy="680.0" r="9.15"/><circle class="g" cx="632.9" cy="535.7" r="9.15"/><circle class="g" cx="604.9" cy="639.3" r="9.15"/><circle class="g" cx="535.3" cy="546.1" r="9.15"/><circle class="g" cx="515.1" cy="547.6" r="9.15"/><circle class="g" cx="663.0" cy="648.9" r="9.15"/><circle class="g" cx="625.1" cy="504.7" r="9.15"/><circle class="g" cx="599.3" cy="670.5" r="9.15"/><circle class="g" cx="574.6" cy="663.1" r="9.15"/><circle class="g" cx="613.4" cy="422.6" r="9.15"/><circle class="r" cx="569.2" cy="593.1" r="9.15"/><circle class="g" cx="664.5" cy="630.3" r="9.15"/><circle class="g" cx="682.5" cy="656.9" r="9.15"/><circle class="g" cx="545.5" cy="497.8" r="9.15"/><circle class="g" cx="574.4" cy="489.7" r="9.15"/><circle class="g" cx="654.3" cy="473.9" r="9.15"/><circle class="g" cx="576.4" cy="618.0" r="9.15"/><circle class="r" cx="554.5" cy="643.5" r="9.15"/><circle class="g" cx="616.8" cy="460.8" r="9.15"/><circle class="g" cx="546.0" cy="636.7" r="9.15"/><circle class="g" cx="516.5" cy="632.6" r="9.15"/><circle class="g" cx="644.3" cy="509.6" r="9.15"/><circle class="g" cx="599.0" cy="561.9" r="9.15"/><circle class="g" cx="523.2" cy="633.0" r="9.15"/><circle class="r" cx="528.5" cy="680.0" r="9.15"/><circle class="g" cx="614.1" cy="416.0" r="9.15"/><circle class="r" cx="575.9" cy="566.4" r="9.15"/><circle class="g" cx="562.9" cy="652.9" r="9.15"/><circle class="g" cx="612.5" cy="548.9" r="9.15"/><circle class="g" cx="558.9" cy="500.0" r="9.15"/><circle class="g" cx="621.9" cy="677.4" r="9.15"/><circle class="g" cx="598.8" cy="596.3" r="9.15"/><circle class="r" cx="631.1" cy="587.7" r="9.15"/><circle class="r" cx="512.0" cy="680.0" r="9.15"/><circle class="r" cx="646.7" cy="606.9" r="9.15"/><circle class="g" cx="691.8" cy="665.6" r="9.15"/><circle class="g" cx="624.5" cy="554.8" r="9.15"/><circle class="g" cx="561.0" cy="642.0" r="9.15"/><circle class="g" cx="647.3" cy="470.5" r="9.15"/><circle class="r" cx="602.6" cy="569.4" r="9.15"/><circle class="g" cx="564.0" cy="596.8" r="9.15"/><circle class="g" cx="693.6" cy="680.0" r="9.15"/><circle class="g" cx="660.0" cy="680.0" r="9.15"/><circle class="g" cx="590.7" cy="654.1" r="9.15"/><circle class="g" cx="682.8" cy="670.2" r="9.15"/><circle class="r" cx="543.5" cy="680.0" r="9.15"/><circle class="r" cx="659.7" cy="642.8" r="9.15"/><circle class="g" cx="551.5" cy="620.1" r="9.15"/><circle class="g" cx="605.6" cy="464.2" r="9.15"/><circle class="g" cx="612.5" cy="631.7" r="9.15"/><circle class="g" cx="612.3" cy="535.6" r="9.15"/><circle class="g" cx="623.8" cy="485.4" r="9.15"/><circle class="g" cx="603.8" cy="529.6" r="9.15"/><circle class="g" cx="619.2" cy="669.2" r="9.15"/><circle class="r" cx="540.9" cy="680.0" r="9.15"/><circle class="g" cx="549.4" cy="567.0" r="9.15"/><circle class="g" cx="660.4" cy="666.9" r="9.15"/><circle class="g" cx="620.7" cy="428.6" r="9.15"/><circle class="g" cx="629.6" cy="541.0" r="9.15"/><circle class="g" cx="588.8" cy="550.6" r="9.15"/><circle class="g" cx="641.4" cy="501.0" r="9.15"/><circle class="g" cx="633.6" cy="576.5" r="9.15"/><circle class="g" cx="629.1" cy="627.0" r="9.15"/><circle class="g" cx="627.2" cy="415.2" r="9.15"/><circle class="g" cx="565.1" cy="559.9" r="9.15"/><circle class="r" cx="628.6" cy="659.7" r="9.15"/><circle class="g" cx="596.1" cy="492.3" r="9.15"/><circle class="r" cx="644.6" cy="668.2" r="9.15"/><circle class="g" cx="591.4" cy="624.7" r="9.15"/><circle class="g" cx="544.1" cy="579.8" r="9.15"/><circle class="r" cx="600.9" cy="680.0" r="9.15"/><circle class="g" cx="591.1" cy="469.7" r="9.15"/><circle class="g" cx="589.7" cy="491.3" r="9.15"/><circle class="g" cx="648.0" cy="677.0" r="9.15"/><circle class="g" cx="696.8" cy="676.3" r="9.15"/><circle class="g" cx="608.9" cy="418.5" r="9.15"/><circle class="g" cx="541.0" cy="604.4" r="9.15"/><circle class="r" cx="540.4" cy="638.9" r="9.15"/><circle class="g" cx="630.5" cy="454.8" r="9.15"/><circle class="r" cx="543.8" cy="647.8" r="9.15"/><circle class="g" cx="618.0" cy="484.3" r="9.15"/><circle class="g" cx="563.4" cy="677.0" r="9.15"/><circle class="g" cx="559.2" cy="669.8" r="9.15"/><circle class="r" cx="600.0" cy="644.7" r="9.15"/><circle class="r" cx="632.2" cy="594.6" r="9.15"/><circle class="g" cx="544.4" cy="588.8" r="9.15"/><circle class="g" cx="537.7" cy="623.5" r="9.15"/><circle class="g" cx="632.5" cy="506.6" r="9.15"/><circle class="g" cx="561.2" cy="553.2" r="9.15"/><circle class="g" cx="547.1" cy="462.0" r="9.15"/><circle class="g" cx="503.9" cy="680.0" r="9.15"/><circle class="g" cx="639.7" cy="413.4" r="9.15"/><circle class="g" cx="622.1" cy="479.2" r="9.15"/><circle class="g" cx="519.4" cy="503.5" r="9.15"/><circle class="g" cx="658.2" cy="460.2" r="9.15"/><circle class="g" cx="529.2" cy="599.4" r="9.15"/><circle class="g" cx="595.2" cy="464.3" r="9.15"/><circle class="g" cx="560.0" cy="575.9" r="9.15"/><circle class="g" cx="545.9" cy="614.9" r="9.15"/><circle class="g" cx="560.6" cy="613.1" r="9.15"/><circle class="g" cx="611.3" cy="680.0" r="9.15"/><circle class="g" cx="611.5" cy="496.9" r="9.15"/><circle class="g" cx="566.6" cy="644.5" r="9.15"/><circle class="g" cx="571.6" cy="585.0" r="9.15"/><circle class="g" cx="552.7" cy="464.0" r="9.15"/><circle class="g" cx="525.8" cy="505.0" r="9.15"/><circle class="g" cx="617.0" cy="568.2" r="9.15"/><circle class="g" cx="552.5" cy="500.9" r="9.15"/><circle class="g" cx="547.7" cy="678.6" r="9.15"/><circle class="g" cx="641.2" cy="643.0" r="9.15"/><circle class="r" cx="605.0" cy="604.6" r="9.15"/><circle class="g" cx="616.2" cy="470.7" r="9.15"/><circle class="g" cx="689.7" cy="680.0" r="9.15"/><circle class="g" cx="543.2" cy="550.7" r="9.15"/><circle class="r" cx="625.4" cy="680.0" r="9.15"/><circle class="g" cx="553.4" cy="544.1" r="9.15"/><circle class="r" cx="617.3" cy="596.3" r="9.15"/><circle class="g" cx="638.3" cy="668.1" r="9.15"/><circle class="g" cx="623.6" cy="454.9" r="9.15"/><circle class="g" cx="596.8" cy="432.5" r="9.15"/><circle class="g" cx="574.1" cy="467.5" r="9.15"/><circle class="g" cx="569.8" cy="674.9" r="9.15"/><circle class="r" cx="562.5" cy="624.5" r="9.15"/><circle class="g" cx="625.2" cy="449.1" r="9.15"/><circle class="r" cx="569.9" cy="651.3" r="9.15"/><circle class="g" cx="596.0" cy="455.4" r="9.15"/><circle class="g" cx="616.2" cy="641.3" r="9.15"/><circle class="r" cx="625.5" cy="586.3" r="9.15"/><circle class="g" cx="639.8" cy="531.6" r="9.15"/><circle class="r" cx="621.5" cy="560.0" r="9.15"/><circle class="g" cx="592.7" cy="504.2" r="9.15"/><circle class="g" cx="622.0" cy="540.5" r="9.15"/><circle class="r" cx="587.6" cy="569.9" r="9.15"/><circle class="g" cx="557.8" cy="602.1" r="9.15"/><circle class="g" cx="581.9" cy="649.7" r="9.15"/><circle class="g" cx="554.4" cy="521.1" r="9.15"/><circle class="g" cx="617.8" cy="438.2" r="9.15"/><circle class="r" cx="639.5" cy="606.9" r="9.15"/><circle class="g" cx="581.4" cy="509.5" r="9.15"/><circle class="g" cx="552.3" cy="535.8" r="9.15"/><circle class="g" cx="596.9" cy="527.5" r="9.15"/><circle class="g" cx="527.3" cy="638.1" r="9.15"/><circle class="g" cx="609.6" cy="624.1" r="9.15"/><circle class="g" cx="610.9" cy="605.0" r="9.15"/><circle class="r" cx="491.1" cy="647.4" r="9.15"/><circle class="g" cx="537.2" cy="537.1" r="9.15"/><circle class="g" cx="567.4" cy="552.5" r="9.15"/><circle class="g" cx="606.9" cy="413.0" r="9.15"/><circle class="g" cx="566.8" cy="669.4" r="9.15"/><circle class="g" cx="577.9" cy="642.3" r="9.15"/><circle class="g" cx="632.5" cy="669.5" r="9.15"/><circle class="g" cx="613.1" cy="616.0" r="9.15"/><circle class="g" cx="581.0" cy="604.7" r="9.15"/><circle class="r" cx="672.0" cy="650.0" r="9.15"/><circle class="g" cx="613.1" cy="527.3" r="9.15"/><circle class="g" cx="602.8" cy="438.5" r="9.15"/><circle class="g" cx="665.6" cy="679.4" r="9.15"/><circle class="g" cx="595.3" cy="680.0" r="9.15"/><circle class="g" cx="546.1" cy="474.0" r="9.15"/><circle class="g" cx="582.9" cy="447.0" r="9.15"/><circle class="g" cx="582.3" cy="563.9" r="9.15"/><circle class="g" cx="682.1" cy="680.0" r="9.15"/><circle class="g" cx="609.6" cy="560.8" r="9.15"/><circle class="r" cx="533.4" cy="680.0" r="9.15"/><circle class="g" cx="580.4" cy="540.5" r="9.15"/><circle class="g" cx="579.5" cy="574.1" r="9.15"/><circle class="g" cx="594.2" cy="614.2" r="9.15"/><circle class="g" cx="572.7" cy="644.4" r="9.15"/><circle class="g" cx="639.8" cy="419.6" r="9.15"/><circle class="g" cx="539.2" cy="496.3" r="9.15"/><circle class="g" cx="593.1" cy="671.6" r="9.15"/><circle class="g" cx="592.9" cy="638.2" r="9.15"/><circle class="g" cx="559.5" cy="517.2" r="9.15"/><circle class="g" cx="616.0" cy="680.0" r="9.15"/><circle class="g" cx="585.4" cy="621.7" r="9.15"/><circle class="g" cx="638.7" cy="367.9" r="9.15"/><circle class="g" cx="625.8" cy="401.4" r="9.15"/><circle class="g" cx="606.5" cy="407.1" r="9.15"/><circle class="g" cx="616.3" cy="405.8" r="9.15"/><circle class="g" cx="578.1" cy="418.2" r="9.15"/><circle class="g" cx="545.8" cy="436.8" r="9.15"/><circle class="g" cx="529.0" cy="459.2" r="9.15"/><circle class="g" cx="534.2" cy="481.9" r="9.15"/><circle class="g" cx="507.1" cy="503.9" r="9.15"/><circle class="g" cx="522.6" cy="502.6" r="9.15"/><circle class="g" cx="498.8" cy="518.1" r="9.15"/><circle class="g" cx="518.7" cy="527.1" r="9.15"/><circle class="g" cx="512.3" cy="546.5" r="9.15"/><circle class="g" cx="483.1" cy="570.5" r="9.15"/><circle class="g" cx="523.4" cy="577.4" r="9.15"/><circle class="g" cx="539.4" cy="581.3" r="9.15"/><circle class="g" cx="526.5" cy="594.2" r="9.15"/><circle class="g" cx="539.4" cy="598.1" r="9.15"/><circle class="g" cx="499.4" cy="639.4" r="9.15"/><circle class="g" cx="481.3" cy="654.8" r="9.15"/><circle class="g" cx="513.5" cy="649.7" r="9.15"/><circle class="g" cx="474.8" cy="672.9" r="9.15"/><circle class="g" cx="491.6" cy="663.9" r="9.15"/><circle class="r" cx="611.1" cy="546.5" r="9.15"/><circle class="r" cx="603.9" cy="563.2" r="9.15"/><circle class="r" cx="570.3" cy="576.9" r="9.15"/><circle class="r" cx="601.3" cy="582.6" r="9.15"/><circle class="r" cx="581.9" cy="609.7" r="9.15"/><circle class="r" cx="605.2" cy="608.4" r="9.15"/><circle class="r" cx="561.3" cy="621.3" r="9.15"/><circle class="r" cx="526.5" cy="626.5" r="9.15"/><circle class="r" cx="540.6" cy="631.6" r="9.15"/><circle class="r" cx="473.5" cy="639.4" r="9.15"/><circle class="r" cx="461.9" cy="643.2" r="9.15"/><circle class="r" cx="458.1" cy="656.1" r="9.15"/><circle class="r" cx="459.4" cy="670.3" r="9.15"/><circle class="r" cx="436.9" cy="676.8" r="9.15"/><circle class="r" cx="440.0" cy="680.0" r="9.15"/><circle class="r" cx="472.3" cy="679.4" r="9.15"/><circle class="r" cx="506.3" cy="667.7" r="9.15"/><circle class="r" cx="526.5" cy="672.9" r="9.15"/><circle class="r" cx="467.6" cy="653.5" r="9.15"/><circle class="r" cx="477.4" cy="665.7" r="9.15"/><circle class="r" cx="486.5" cy="675.5" r="9.15"/><circle class="g" cx="643.4" cy="385.0" r="9.15"/><circle class="g" cx="661.8" cy="392.0" r="9.15"/><circle class="g" cx="700.4" cy="397.9" r="9.15"/><circle class="g" cx="714.6" cy="399.5" r="9.15"/><circle class="g" cx="643.4" cy="406.3" r="9.15"/><circle class="g" cx="659.3" cy="407.1" r="9.15"/><circle class="g" cx="672.7" cy="407.9" r="9.15"/><circle class="g" cx="690.3" cy="409.1" r="9.15"/><circle class="g" cx="713.8" cy="407.9" r="9.15"/><circle class="g" cx="701.2" cy="417.5" r="9.15"/><circle class="g" cx="723.9" cy="425.2" r="9.15"/><circle class="g" cx="684.5" cy="424.7" r="9.15"/><circle class="g" cx="677.7" cy="431.4" r="9.15"/><circle class="g" cx="705.1" cy="442.7" r="9.15"/><circle class="g" cx="670.2" cy="446.5" r="9.15"/><circle class="g" cx="654.8" cy="449.9" r="9.15"/><circle class="g" cx="678.9" cy="459.6" r="9.15"/><circle class="g" cx="687.8" cy="469.5" r="9.15"/><circle class="g" cx="654.8" cy="475.9" r="9.15"/><circle class="g" cx="672.7" cy="481.7" r="9.15"/><circle class="g" cx="743.7" cy="475.9" r="9.15"/><circle class="g" cx="662.6" cy="499.0" r="9.15"/><circle class="g" cx="646.7" cy="509.4" r="9.15"/><circle class="g" cx="667.7" cy="513.6" r="9.15"/><circle class="g" cx="695.4" cy="512.8" r="9.15"/><circle class="g" cx="714.6" cy="516.1" r="9.15"/><circle class="g" cx="748.7" cy="525.9" r="9.15"/><circle class="g" cx="663.5" cy="531.2" r="9.15"/><circle class="g" cx="646.7" cy="534.6" r="9.15"/><circle class="g" cx="706.6" cy="551.7" r="9.15"/><circle class="g" cx="682.8" cy="579.0" r="9.15"/><circle class="g" cx="686.1" cy="579.9" r="9.15"/><circle class="g" cx="711.3" cy="610.4" r="9.15"/><circle class="g" cx="681.1" cy="624.0" r="9.15"/><circle class="g" cx="717.5" cy="623.5" r="9.15"/><circle class="g" cx="731.4" cy="627.7" r="9.15"/><circle class="g" cx="698.4" cy="637.2" r="9.15"/><circle class="g" cx="745.7" cy="645.3" r="9.15"/><circle class="g" cx="740.6" cy="652.8" r="9.15"/><circle class="g" cx="766.6" cy="662.1" r="9.15"/><circle class="g" cx="739.0" cy="675.8" r="9.15"/><circle class="g" cx="695.4" cy="679.7" r="9.15"/><circle class="g" cx="708.8" cy="677.2" r="9.15"/><circle class="g" cx="713.8" cy="673.8" r="9.15"/><circle class="g" cx="687.0" cy="662.1" r="9.15"/><circle class="g" cx="697.0" cy="657.0" r="9.15"/><circle class="r" cx="730.6" cy="576.5" r="9.15"/><circle class="r" cx="672.7" cy="563.9" r="9.15"/><circle class="r" cx="650.1" cy="563.9" r="9.15"/><circle class="r" cx="668.5" cy="579.9" r="9.15"/><circle class="r" cx="657.6" cy="589.9" r="9.15"/><circle class="r" cx="674.4" cy="595.0" r="9.15"/><circle class="r" cx="677.7" cy="600.8" r="9.15"/><circle class="r" cx="662.6" cy="627.7" r="9.15"/><circle class="r" cx="719.2" cy="637.7" r="9.15"/><circle class="r" cx="714.6" cy="652.0" r="9.15"/><circle class="r" cx="733.9" cy="647.8" r="9.15"/><circle class="r" cx="674.4" cy="676.3" r="9.15"/><circle class="r" cx="643.4" cy="678.8" r="9.15"/><circle class="r" cx="925.6" cy="648.8" r="9.15"/><circle class="r" cx="850.5" cy="673.0" r="9.15"/><circle class="r" cx="907.2" cy="673.8" r="9.15"/><circle class="r" cx="1194.4" cy="547.3" r="9.15"/><circle class="r" cx="1193.7" cy="574.4" r="9.15"/><circle class="g" cx="863.8" cy="475.0" r="9.15"/><circle class="g" cx="900.7" cy="542.2" r="9.15"/><circle class="g" cx="950.9" cy="576.6" r="9.15"/><circle class="g" cx="976.9" cy="571.9" r="9.15"/><circle class="g" cx="979.8" cy="583.8" r="9.15"/><circle class="g" cx="1067.2" cy="532.1" r="9.15"/><circle class="g" cx="1093.2" cy="570.1" r="9.15"/><circle class="g" cx="1015.6" cy="608.4" r="9.15"/><circle class="g" cx="918.4" cy="601.5" r="9.15"/><circle class="g" cx="895.6" cy="613.4" r="9.15"/><circle class="g" cx="921.6" cy="624.3" r="9.15"/><circle class="g" cx="905.7" cy="629.7" r="9.15"/><circle class="g" cx="829.5" cy="626.8" r="9.15"/><circle class="g" cx="849.4" cy="630.4" r="9.15"/><circle class="g" cx="866.7" cy="640.5" r="9.15"/><circle class="g" cx="886.6" cy="644.9" r="9.15"/><circle class="g" cx="898.1" cy="642.3" r="9.15"/><circle class="g" cx="999.3" cy="651.4" r="9.15"/><circle class="g" cx="811.8" cy="661.1" r="9.15"/><circle class="g" cx="843.2" cy="656.1" r="9.15"/><circle class="g" cx="845.0" cy="664.0" r="9.15"/><circle class="g" cx="852.3" cy="665.8" r="9.15"/><circle class="g" cx="884.8" cy="664.0" r="9.15"/><circle class="g" cx="901.0" cy="669.4" r="9.15"/><circle class="g" cx="910.1" cy="667.6" r="9.15"/><circle class="g" cx="922.0" cy="656.8" r="9.15"/><circle class="g" cx="936.1" cy="667.6" r="9.15"/><circle class="g" cx="936.1" cy="670.1" r="9.15"/><circle class="g" cx="957.0" cy="671.2" r="9.15"/><circle class="g" cx="914.4" cy="674.1" r="9.15"/><circle class="g" cx="1094.7" cy="639.8" r="9.15"/><circle class="g" cx="1099.4" cy="658.6" r="9.15"/><circle class="g" cx="1075.5" cy="665.1" r="9.15"/><circle class="g" cx="1146.7" cy="546.6" r="9.15"/><circle class="g" cx="1230.9" cy="532.1" r="9.15"/><circle class="g" cx="1200.9" cy="552.0" r="9.15"/><circle class="g" cx="1211.7" cy="561.0" r="9.15"/><circle class="g" cx="1219.0" cy="567.2" r="9.15"/><circle class="g" cx="1223.7" cy="573.0" r="9.15"/><circle class="g" cx="1182.8" cy="579.8" r="9.15"/><circle class="g" cx="1188.3" cy="582.0" r="9.15"/><circle class="g" cx="1216.1" cy="585.2" r="9.15"/><circle class="g" cx="1147.8" cy="596.1" r="9.15"/><circle class="g" cx="1235.2" cy="600.8" r="9.15"/><circle class="g" cx="1146.7" cy="620.6" r="9.15"/><circle class="g" cx="1175.6" cy="621.7" r="9.15"/><circle class="g" cx="1217.9" cy="634.4" r="9.15"/><circle class="g" cx="1228.0" cy="646.7" r="9.15"/><circle class="g" cx="1213.5" cy="649.5" r="9.15"/><circle class="g" cx="1214.3" cy="656.8" r="9.15"/><circle class="g" cx="1144.9" cy="653.9" r="9.15"/><circle class="g" cx="1159.4" cy="652.4" r="9.15"/><circle class="g" cx="1163.0" cy="658.6" r="9.15"/><circle class="g" cx="1180.3" cy="650.3" r="9.15"/><circle class="g" cx="1188.3" cy="658.6" r="9.15"/><circle class="g" cx="1179.2" cy="661.1" r="9.15"/><circle class="g" cx="1195.5" cy="665.8" r="9.15"/><circle class="g" cx="1202.7" cy="671.2" r="9.15"/><circle class="g" cx="1227.3" cy="671.2" r="9.15"/><circle class="g" cx="1240.6" cy="667.6" r="9.15"/><circle class="g" cx="1246.1" cy="668.7" r="9.15"/><circle class="g" cx="1155.7" cy="679.2" r="9.15"/><circle class="g" cx="1165.9" cy="676.6" r="9.15"/><circle class="g" cx="1199.1" cy="678.5" r="9.15"/><circle class="g" cx="1209.9" cy="677.4" r="9.15"/><circle class="g" cx="1212.8" cy="680.0" r="9.15"/><circle class="g" cx="1275.7" cy="649.5" r="9.15"/><circle class="g" cx="1279.3" cy="664.0" r="9.15"/><circle class="g" cx="1319.8" cy="655.3" r="9.15"/><circle class="r" cx="868.5" cy="499.6" r="9.15"/><circle class="r" cx="865.3" cy="504.3" r="9.15"/><circle class="r" cx="851.9" cy="561.8" r="9.15"/><circle class="r" cx="947.3" cy="557.8" r="9.15"/><circle class="r" cx="837.4" cy="605.8" r="9.15"/><circle class="r" cx="941.1" cy="603.3" r="9.15"/><circle class="r" cx="923.4" cy="612.3" r="9.15"/><circle class="r" cx="953.4" cy="626.8" r="9.15"/><circle class="r" cx="944.4" cy="630.4" r="9.15"/><circle class="r" cx="968.2" cy="638.7" r="9.15"/><circle class="r" cx="830.9" cy="646.3" r="9.15"/><circle class="r" cx="926.7" cy="652.4" r="9.15"/><circle class="r" cx="795.2" cy="664.7" r="9.15"/><circle class="r" cx="1060.7" cy="613.4" r="9.15"/><circle class="r" cx="1057.5" cy="657.9" r="9.15"/><circle class="r" cx="1110.6" cy="672.3" r="9.15"/><circle class="r" cx="1155.7" cy="555.6" r="9.15"/><circle class="r" cx="1212.5" cy="536.8" r="9.15"/><circle class="r" cx="1151.0" cy="606.2" r="9.15"/><circle class="r" cx="1201.6" cy="621.7" r="9.15"/><circle class="r" cx="1164.1" cy="631.8" r="9.15"/><circle class="r" cx="1196.2" cy="669.4" r="9.15"/><circle class="r" cx="1179.2" cy="677.7" r="9.15"/><circle class="g" cx="1196.7" cy="215.4" r="9.15"/><circle class="g" cx="1219.4" cy="217.7" r="9.15"/><circle class="g" cx="1219.4" cy="235.2" r="9.15"/><circle class="g" cx="1242.0" cy="236.1" r="9.15"/><circle class="g" cx="1235.4" cy="245.4" r="9.15"/><circle class="g" cx="1253.6" cy="245.2" r="9.15"/><circle class="g" cx="1279.4" cy="236.1" r="9.15"/><circle class="g" cx="1195.2" cy="252.2" r="9.15"/><circle class="g" cx="1175.8" cy="259.9" r="9.15"/><circle class="r" cx="1158.0" cy="113.6" r="9.15"/><circle class="r" cx="1183.7" cy="239.8" r="9.15"/><circle class="g" cx="574.5" cy="1325.6" r="9.15"/><circle class="r" cx="454.0" cy="1545.1" r="9.15"/><circle class="g" cx="546.9" cy="1506.4" r="9.15"/><circle class="g" cx="569.1" cy="1425.0" r="9.15"/><circle class="g" cx="488.6" cy="1504.6" r="9.15"/><circle class="g" cx="522.0" cy="1511.5" r="9.15"/><circle class="g" cx="518.4" cy="1374.2" r="9.15"/><circle class="g" cx="580.8" cy="1318.4" r="9.15"/><circle class="g" cx="499.2" cy="1443.2" r="9.15"/><circle class="g" cx="486.8" cy="1460.6" r="9.15"/><circle class="g" cx="465.0" cy="1539.3" r="9.15"/><circle class="g" cx="465.7" cy="1533.1" r="9.15"/><circle class="g" cx="468.0" cy="1471.9" r="9.15"/><circle class="g" cx="461.7" cy="1453.1" r="9.15"/><circle class="g" cx="442.4" cy="1527.9" r="9.15"/><circle class="g" cx="477.6" cy="1535.5" r="9.15"/><circle class="g" cx="474.4" cy="1471.5" r="9.15"/><circle class="g" cx="556.1" cy="1378.5" r="9.15"/><circle class="g" cx="512.2" cy="1376.3" r="9.15"/><circle class="g" cx="458.9" cy="1521.9" r="9.15"/><circle class="g" cx="597.7" cy="1499.9" r="9.15"/><circle class="g" cx="584.6" cy="1332.3" r="9.15"/><circle class="g" cx="474.8" cy="1499.3" r="9.15"/><circle class="r" cx="452.7" cy="1495.6" r="9.15"/><circle class="g" cx="575.4" cy="1391.2" r="9.15"/><circle class="g" cx="573.2" cy="1545.5" r="9.15"/><circle class="g" cx="478.1" cy="1435.9" r="9.15"/><circle class="g" cx="537.5" cy="1439.8" r="9.15"/><circle class="g" cx="486.6" cy="1381.9" r="9.15"/><circle class="g" cx="489.3" cy="1370.1" r="9.15"/><circle class="g" cx="453.2" cy="1465.0" r="9.15"/><circle class="g" cx="479.9" cy="1442.0" r="9.15"/><circle class="g" cx="503.3" cy="1500.9" r="9.15"/><circle class="g" cx="526.4" cy="1373.1" r="9.15"/><circle class="g" cx="576.2" cy="1359.2" r="9.15"/><circle class="g" cx="559.4" cy="1510.6" r="9.15"/><circle class="r" cx="577.4" cy="1545.5" r="9.15"/><circle class="g" cx="504.6" cy="1385.1" r="9.15"/><circle class="g" cx="451.4" cy="1545.5" r="9.15"/><circle class="g" cx="566.4" cy="1326.1" r="9.15"/><circle class="g" cx="434.3" cy="1460.7" r="9.15"/><circle class="g" cx="535.1" cy="1423.3" r="9.15"/><circle class="g" cx="519.1" cy="1498.9" r="9.15"/><circle class="r" cx="590.8" cy="1460.3" r="9.15"/><circle class="g" cx="518.3" cy="1520.1" r="9.15"/><circle class="g" cx="431.4" cy="1523.4" r="9.15"/><circle class="g" cx="559.3" cy="1373.3" r="9.15"/><circle class="g" cx="451.0" cy="1533.7" r="9.15"/><circle class="g" cx="510.0" cy="1472.2" r="9.15"/><circle class="r" cx="485.0" cy="1494.1" r="9.15"/><circle class="g" cx="478.0" cy="1469.7" r="9.15"/><circle class="g" cx="446.8" cy="1464.7" r="9.15"/><circle class="r" cx="526.0" cy="1498.7" r="9.15"/><circle class="g" cx="423.6" cy="1479.8" r="9.15"/><circle class="g" cx="496.8" cy="1490.4" r="9.15"/><circle class="g" cx="539.9" cy="1523.7" r="9.15"/><circle class="g" cx="570.3" cy="1358.0" r="9.15"/><circle class="g" cx="576.2" cy="1471.7" r="9.15"/><circle class="g" cx="518.9" cy="1342.3" r="9.15"/><circle class="g" cx="554.3" cy="1453.7" r="9.15"/><circle class="g" cx="596.6" cy="1350.6" r="9.15"/><circle class="r" cx="479.7" cy="1486.9" r="9.15"/><circle class="g" cx="574.1" cy="1545.2" r="9.15"/><circle class="r" cx="546.4" cy="1537.2" r="9.15"/><circle class="g" cx="568.5" cy="1335.5" r="9.15"/><circle class="g" cx="471.5" cy="1480.8" r="9.15"/><circle class="g" cx="443.2" cy="1472.5" r="9.15"/><circle class="r" cx="430.3" cy="1535.4" r="9.15"/><circle class="g" cx="522.1" cy="1480.3" r="9.15"/><circle class="g" cx="452.6" cy="1473.0" r="9.15"/><circle class="g" cx="449.8" cy="1431.6" r="9.15"/><circle class="r" cx="458.5" cy="1510.2" r="9.15"/><circle class="g" cx="580.7" cy="1477.5" r="9.15"/><circle class="r" cx="461.6" cy="1515.2" r="9.15"/><circle class="g" cx="610.3" cy="1516.0" r="9.15"/><circle class="g" cx="479.6" cy="1368.9" r="9.15"/><circle class="r" cx="468.4" cy="1501.9" r="9.15"/><circle class="g" cx="601.6" cy="1392.2" r="9.15"/><circle class="g" cx="567.4" cy="1445.1" r="9.15"/><circle class="g" cx="564.1" cy="1392.1" r="9.15"/><circle class="g" cx="562.7" cy="1530.1" r="9.15"/><circle class="r" cx="498.8" cy="1537.4" r="9.15"/><circle class="g" cx="510.4" cy="1526.8" r="9.15"/><circle class="g" cx="448.6" cy="1526.3" r="9.15"/><circle class="g" cx="493.7" cy="1391.6" r="9.15"/><circle class="g" cx="510.5" cy="1441.7" r="9.15"/><circle class="g" cx="435.0" cy="1506.5" r="9.15"/><circle class="g" cx="507.1" cy="1480.2" r="9.15"/><circle class="g" cx="555.1" cy="1408.3" r="9.15"/><circle class="r" cx="541.7" cy="1544.9" r="9.15"/><circle class="g" cx="600.8" cy="1338.8" r="9.15"/><circle class="g" cx="499.3" cy="1388.3" r="9.15"/><circle class="g" cx="576.5" cy="1493.3" r="9.15"/><circle class="g" cx="451.3" cy="1455.9" r="9.15"/><circle class="g" cx="562.8" cy="1545.5" r="9.15"/><circle class="g" cx="606.5" cy="1507.1" r="9.15"/><circle class="g" cx="612.7" cy="1545.5" r="9.15"/><circle class="g" cx="537.5" cy="1432.7" r="9.15"/><circle class="r" cx="493.5" cy="1495.5" r="9.15"/><circle class="g" cx="533.7" cy="1465.0" r="9.15"/><circle class="g" cx="583.2" cy="1390.9" r="9.15"/><circle class="g" cx="603.2" cy="1498.7" r="9.15"/><circle class="g" cx="471.8" cy="1434.0" r="9.15"/><circle class="g" cx="486.7" cy="1444.9" r="9.15"/><circle class="r" cx="433.3" cy="1499.8" r="9.15"/><circle class="g" cx="547.1" cy="1353.3" r="9.15"/><circle class="r" cx="439.3" cy="1540.9" r="9.15"/><circle class="g" cx="485.7" cy="1471.7" r="9.15"/><circle class="g" cx="561.5" cy="1416.1" r="9.15"/><circle class="g" cx="483.3" cy="1533.5" r="9.15"/><circle class="g" cx="497.4" cy="1531.3" r="9.15"/><circle class="g" cx="503.0" cy="1393.4" r="9.15"/><circle class="g" cx="574.5" cy="1383.2" r="9.15"/><circle class="g" cx="520.1" cy="1474.9" r="9.15"/><circle class="g" cx="519.9" cy="1387.2" r="9.15"/><circle class="g" cx="508.6" cy="1381.2" r="9.15"/><circle class="r" cx="550.0" cy="1451.0" r="9.15"/><circle class="r" cx="551.6" cy="1502.3" r="9.15"/><circle class="g" cx="480.3" cy="1383.7" r="9.15"/><circle class="g" cx="520.3" cy="1402.4" r="9.15"/><circle class="g" cx="597.7" cy="1379.1" r="9.15"/><circle class="g" cx="548.4" cy="1480.7" r="9.15"/><circle class="g" cx="464.2" cy="1545.5" r="9.15"/><circle class="r" cx="571.5" cy="1525.8" r="9.15"/><circle class="g" cx="504.6" cy="1527.0" r="9.15"/><circle class="g" cx="510.4" cy="1388.9" r="9.15"/><circle class="r" cx="576.7" cy="1447.3" r="9.15"/><circle class="g" cx="539.8" cy="1419.6" r="9.15"/><circle class="g" cx="518.8" cy="1360.8" r="9.15"/><circle class="g" cx="558.5" cy="1327.5" r="9.15"/><circle class="g" cx="497.4" cy="1437.7" r="9.15"/><circle class="g" cx="487.3" cy="1538.5" r="9.15"/><circle class="g" cx="522.5" cy="1545.5" r="9.15"/><circle class="g" cx="568.6" cy="1351.9" r="9.15"/><circle class="g" cx="508.3" cy="1512.3" r="9.15"/><circle class="g" cx="535.2" cy="1363.1" r="9.15"/><circle class="g" cx="565.2" cy="1379.4" r="9.15"/><circle class="g" cx="466.9" cy="1420.7" r="9.15"/><circle class="g" cx="493.0" cy="1538.1" r="9.15"/><circle class="g" cx="497.4" cy="1455.3" r="9.15"/><circle class="g" cx="479.0" cy="1414.0" r="9.15"/><circle class="g" cx="573.9" cy="1365.9" r="9.15"/><circle class="g" cx="544.3" cy="1529.9" r="9.15"/><circle class="g" cx="580.5" cy="1312.1" r="9.15"/><circle class="g" cx="542.4" cy="1369.3" r="9.15"/><circle class="g" cx="446.2" cy="1452.5" r="9.15"/><circle class="g" cx="509.6" cy="1544.7" r="9.15"/><circle class="r" cx="479.4" cy="1503.1" r="9.15"/><circle class="g" cx="586.7" cy="1503.1" r="9.15"/><circle class="g" cx="576.5" cy="1446.9" r="9.15"/><circle class="g" cx="556.6" cy="1517.1" r="9.15"/><circle class="g" cx="497.8" cy="1449.3" r="9.15"/><circle class="g" cx="605.3" cy="1512.7" r="9.15"/><circle class="g" cx="542.0" cy="1545.5" r="9.15"/><circle class="g" cx="557.2" cy="1545.5" r="9.15"/><circle class="g" cx="572.0" cy="1508.3" r="9.15"/><circle class="g" cx="504.0" cy="1448.7" r="9.15"/><circle class="g" cx="502.2" cy="1476.1" r="9.15"/><circle class="g" cx="581.5" cy="1517.0" r="9.15"/><circle class="g" cx="563.5" cy="1339.1" r="9.15"/><circle class="g" cx="557.7" cy="1340.6" r="9.15"/><circle class="g" cx="548.3" cy="1361.3" r="9.15"/><circle class="r" cx="555.9" cy="1473.9" r="9.15"/><circle class="g" cx="450.5" cy="1444.5" r="9.15"/><circle class="g" cx="496.8" cy="1405.8" r="9.15"/><circle class="g" cx="609.9" cy="1540.5" r="9.15"/><circle class="g" cx="569.0" cy="1405.8" r="9.15"/><circle class="g" cx="525.3" cy="1344.2" r="9.15"/><circle class="r" cx="603.0" cy="1541.2" r="9.15"/><circle class="g" cx="558.6" cy="1433.3" r="9.15"/><circle class="r" cx="587.3" cy="1468.7" r="9.15"/><circle class="g" cx="490.8" cy="1433.0" r="9.15"/><circle class="g" cx="590.0" cy="1545.5" r="9.15"/><circle class="g" cx="531.4" cy="1435.3" r="9.15"/><circle class="r" cx="506.1" cy="1521.5" r="9.15"/><circle class="g" cx="518.6" cy="1506.9" r="9.15"/><circle class="r" cx="486.4" cy="1521.3" r="9.15"/><circle class="r" cx="515.9" cy="1544.0" r="9.15"/><circle class="r" cx="556.9" cy="1504.6" r="9.15"/><circle class="g" cx="556.4" cy="1496.2" r="9.15"/><circle class="g" cx="583.6" cy="1367.7" r="9.15"/><circle class="g" cx="559.6" cy="1354.3" r="9.15"/><circle class="g" cx="511.5" cy="1434.5" r="9.15"/><circle class="g" cx="588.7" cy="1351.5" r="9.15"/><circle class="g" cx="536.3" cy="1459.4" r="9.15"/><circle class="g" cx="445.6" cy="1437.9" r="9.15"/><circle class="r" cx="489.8" cy="1515.3" r="9.15"/><circle class="r" cx="453.4" cy="1513.2" r="9.15"/><circle class="g" cx="576.0" cy="1426.8" r="9.15"/><circle class="r" cx="448.6" cy="1499.6" r="9.15"/><circle class="g" cx="498.7" cy="1352.9" r="9.15"/><circle class="g" cx="494.8" cy="1415.9" r="9.15"/><circle class="r" cx="603.6" cy="1534.9" r="9.15"/><circle class="g" cx="445.0" cy="1539.5" r="9.15"/><circle class="r" cx="528.6" cy="1536.5" r="9.15"/><circle class="g" cx="604.6" cy="1379.1" r="9.15"/><circle class="g" cx="602.4" cy="1453.6" r="9.15"/><circle class="g" cx="526.0" cy="1439.8" r="9.15"/><circle class="g" cx="502.9" cy="1470.5" r="9.15"/><circle class="r" cx="430.3" cy="1510.4" r="9.15"/><circle class="g" cx="562.3" cy="1458.7" r="9.15"/><circle class="g" cx="582.0" cy="1343.5" r="9.15"/><circle class="g" cx="506.1" cy="1418.2" r="9.15"/><circle class="g" cx="500.7" cy="1420.5" r="9.15"/><circle class="g" cx="553.9" cy="1319.1" r="9.15"/><circle class="g" cx="439.6" cy="1499.1" r="9.15"/><circle class="g" cx="473.6" cy="1425.6" r="9.15"/><circle class="r" cx="485.4" cy="1487.6" r="9.15"/><circle class="g" cx="562.0" cy="1463.6" r="9.15"/><circle class="g" cx="542.5" cy="1510.4" r="9.15"/><circle class="g" cx="534.6" cy="1393.6" r="9.15"/><circle class="g" cx="581.0" cy="1362.4" r="9.15"/><circle class="g" cx="440.2" cy="1455.7" r="9.15"/><circle class="g" cx="459.8" cy="1545.1" r="9.15"/><circle class="r" cx="557.6" cy="1467.7" r="9.15"/><circle class="r" cx="570.7" cy="1454.1" r="9.15"/><circle class="g" cx="600.2" cy="1461.0" r="9.15"/><circle class="r" cx="552.1" cy="1491.0" r="9.15"/><circle class="g" cx="596.4" cy="1364.9" r="9.15"/><circle class="g" cx="599.5" cy="1545.5" r="9.15"/><circle class="g" cx="596.9" cy="1343.5" r="9.15"/><circle class="g" cx="610.0" cy="1545.5" r="9.15"/><circle class="g" cx="471.5" cy="1469.9" r="9.15"/><circle class="g" cx="456.1" cy="1539.1" r="9.15"/><circle class="g" cx="486.5" cy="1419.1" r="9.15"/><circle class="g" cx="480.3" cy="1430.5" r="9.15"/><circle class="g" cx="590.2" cy="1391.4" r="9.15"/><circle class="r" cx="544.3" cy="1452.0" r="9.15"/><circle class="g" cx="584.8" cy="1523.6" r="9.15"/><circle class="g" cx="604.4" cy="1545.5" r="9.15"/><circle class="r" cx="503.9" cy="1494.8" r="9.15"/><circle class="g" cx="526.3" cy="1364.1" r="9.15"/><circle class="r" cx="512.1" cy="1520.0" r="9.15"/><circle class="g" cx="579.1" cy="1373.6" r="9.15"/><circle class="g" cx="561.3" cy="1452.5" r="9.15"/><circle class="r" cx="526.9" cy="1545.5" r="9.15"/><circle class="g" cx="441.9" cy="1443.7" r="9.15"/><circle class="g" cx="530.0" cy="1398.1" r="9.15"/><circle class="g" cx="488.4" cy="1388.7" r="9.15"/><circle class="r" cx="548.3" cy="1542.6" r="9.15"/><circle class="g" cx="591.7" cy="1339.7" r="9.15"/><circle class="g" cx="574.8" cy="1311.3" r="9.15"/><circle class="g" cx="491.5" cy="1361.9" r="9.15"/><circle class="g" cx="604.6" cy="1521.1" r="9.15"/><circle class="g" cx="537.2" cy="1339.2" r="9.15"/><circle class="r" cx="432.6" cy="1487.2" r="9.15"/><circle class="g" cx="458.2" cy="1434.3" r="9.15"/><circle class="r" cx="535.9" cy="1475.9" r="9.15"/><circle class="g" cx="513.6" cy="1420.2" r="9.15"/><circle class="g" cx="459.9" cy="1422.5" r="9.15"/><circle class="g" cx="531.0" cy="1384.5" r="9.15"/><circle class="g" cx="534.2" cy="1455.0" r="9.15"/><circle class="g" cx="485.4" cy="1365.8" r="9.15"/><circle class="g" cx="484.2" cy="1466.0" r="9.15"/><circle class="g" cx="527.1" cy="1459.4" r="9.15"/><circle class="g" cx="536.3" cy="1545.5" r="9.15"/><circle class="g" cx="575.8" cy="1408.0" r="9.15"/><circle class="g" cx="601.1" cy="1479.7" r="9.15"/><circle class="g" cx="503.2" cy="1543.6" r="9.15"/><circle class="g" cx="493.3" cy="1444.5" r="9.15"/><circle class="g" cx="505.8" cy="1437.1" r="9.15"/><circle class="g" cx="555.9" cy="1418.7" r="9.15"/><circle class="r" cx="520.7" cy="1493.3" r="9.15"/><circle class="g" cx="541.4" cy="1363.8" r="9.15"/><circle class="g" cx="579.8" cy="1542.4" r="9.15"/><circle class="g" cx="430.0" cy="1516.7" r="9.15"/><circle class="g" cx="490.9" cy="1479.4" r="9.15"/><circle class="r" cx="474.1" cy="1486.0" r="9.15"/><circle class="r" cx="582.4" cy="1458.6" r="9.15"/><circle class="g" cx="503.8" cy="1356.1" r="9.15"/><circle class="g" cx="497.1" cy="1543.7" r="9.15"/><circle class="r" cx="514.5" cy="1494.3" r="9.15"/><circle class="r" cx="474.1" cy="1511.6" r="9.15"/><circle class="r" cx="557.1" cy="1538.7" r="9.15"/><circle class="g" cx="527.6" cy="1468.4" r="9.15"/><circle class="g" cx="610.7" cy="1523.2" r="9.15"/><circle class="r" cx="503.9" cy="1545.5" r="9.15"/><circle class="g" cx="555.8" cy="1480.3" r="9.15"/><circle class="g" cx="551.8" cy="1545.5" r="9.15"/><circle class="g" cx="587.2" cy="1474.7" r="9.15"/><circle class="r" cx="564.6" cy="1457.1" r="9.15"/><circle class="r" cx="591.8" cy="1484.5" r="9.15"/><circle class="g" cx="543.5" cy="1439.2" r="9.15"/><circle class="g" cx="570.4" cy="1539.8" r="9.15"/><circle class="g" cx="438.3" cy="1486.6" r="9.15"/><circle class="r" cx="455.4" cy="1501.0" r="9.15"/><circle class="g" cx="459.2" cy="1545.5" r="9.15"/><circle class="g" cx="510.8" cy="1472.2" r="9.15"/><circle class="r" cx="600.5" cy="1469.1" r="9.15"/><circle class="g" cx="531.8" cy="1417.4" r="9.15"/><circle class="r" cx="462.7" cy="1499.1" r="9.15"/><circle class="g" cx="554.6" cy="1332.8" r="9.15"/><circle class="g" cx="465.8" cy="1429.5" r="9.15"/><circle class="r" cx="596.2" cy="1505.4" r="9.15"/><circle class="g" cx="582.4" cy="1380.9" r="9.15"/><circle class="r" cx="581.4" cy="1505.0" r="9.15"/><circle class="g" cx="548.5" cy="1328.3" r="9.15"/><circle class="g" cx="521.3" cy="1429.4" r="9.15"/><circle class="r" cx="448.3" cy="1544.3" r="9.15"/><circle class="g" cx="569.2" cy="1545.5" r="9.15"/><circle class="g" cx="549.2" cy="1322.6" r="9.15"/><circle class="g" cx="555.4" cy="1461.7" r="9.15"/><circle class="g" cx="511.8" cy="1414.7" r="9.15"/><circle class="g" cx="470.0" cy="1545.5" r="9.15"/><circle class="g" cx="537.6" cy="1357.4" r="9.15"/><circle class="g" cx="504.0" cy="1350.0" r="9.15"/><circle class="g" cx="515.5" cy="1335.3" r="9.15"/><circle class="g" cx="471.6" cy="1537.3" r="9.15"/><circle class="g" cx="525.9" cy="1525.9" r="9.15"/><circle class="g" cx="553.7" cy="1534.2" r="9.15"/><circle class="g" cx="504.9" cy="1442.7" r="9.15"/><circle class="r" cx="621.1" cy="1535.4" r="9.15"/><circle class="g" cx="427.2" cy="1485.7" r="9.15"/><circle class="g" cx="504.6" cy="1370.7" r="9.15"/><circle class="g" cx="529.5" cy="1378.3" r="9.15"/><circle class="r" cx="518.8" cy="1536.4" r="9.15"/><circle class="r" cx="562.4" cy="1500.9" r="9.15"/><circle class="g" cx="495.2" cy="1368.5" r="9.15"/><circle class="g" cx="508.4" cy="1425.7" r="9.15"/><circle class="g" cx="588.3" cy="1323.6" r="9.15"/><circle class="r" cx="545.8" cy="1500.5" r="9.15"/><circle class="g" cx="539.2" cy="1374.7" r="9.15"/><circle class="r" cx="592.5" cy="1465.8" r="9.15"/><circle class="g" cx="495.9" cy="1476.8" r="9.15"/><circle class="g" cx="535.7" cy="1542.6" r="9.15"/><circle class="r" cx="485.1" cy="1500.0" r="9.15"/><circle class="g" cx="601.0" cy="1385.5" r="9.15"/><circle class="g" cx="541.3" cy="1414.0" r="9.15"/><circle class="g" cx="540.3" cy="1538.6" r="9.15"/><circle class="r" cx="485.6" cy="1481.6" r="9.15"/><circle class="g" cx="535.9" cy="1485.2" r="9.15"/><circle class="g" cx="529.5" cy="1340.6" r="9.15"/><circle class="g" cx="579.8" cy="1536.8" r="9.15"/><circle class="g" cx="479.7" cy="1540.9" r="9.15"/><circle class="g" cx="547.8" cy="1513.3" r="9.15"/><circle class="r" cx="539.2" cy="1469.4" r="9.15"/><circle class="g" cx="590.1" cy="1345.7" r="9.15"/><circle class="g" cx="550.0" cy="1457.2" r="9.15"/><circle class="r" cx="550.7" cy="1526.8" r="9.15"/><circle class="g" cx="471.9" cy="1524.2" r="9.15"/><circle class="g" cx="559.9" cy="1321.5" r="9.15"/><circle class="r" cx="484.9" cy="1511.8" r="9.15"/><circle class="g" cx="598.2" cy="1371.4" r="9.15"/><circle class="r" cx="468.4" cy="1487.3" r="9.15"/><circle class="g" cx="568.7" cy="1468.5" r="9.15"/><circle class="g" cx="561.6" cy="1402.8" r="9.15"/><circle class="g" cx="523.5" cy="1382.4" r="9.15"/><circle class="g" cx="596.6" cy="1520.0" r="9.15"/><circle class="g" cx="502.5" cy="1458.6" r="9.15"/><circle class="g" cx="511.9" cy="1459.2" r="9.15"/><circle class="g" cx="532.9" cy="1490.7" r="9.15"/><circle class="r" cx="539.1" cy="1454.3" r="9.15"/><circle class="g" cx="441.7" cy="1469.6" r="9.15"/><circle class="g" cx="457.2" cy="1486.5" r="9.15"/><circle class="g" cx="496.9" cy="1396.2" r="9.15"/><circle class="g" cx="629.2" cy="1544.2" r="9.15"/><circle class="g" cx="622.0" cy="1524.7" r="9.15"/><circle class="g" cx="568.0" cy="1399.3" r="9.15"/><circle class="g" cx="521.3" cy="1457.0" r="9.15"/><circle class="g" cx="518.9" cy="1415.1" r="9.15"/><circle class="g" cx="583.7" cy="1529.3" r="9.15"/><circle class="g" cx="483.1" cy="1449.7" r="9.15"/><circle class="r" cx="536.9" cy="1506.7" r="9.15"/><circle class="g" cx="572.7" cy="1439.4" r="9.15"/><circle class="g" cx="439.5" cy="1514.3" r="9.15"/><circle class="r" cx="486.2" cy="1544.4" r="9.15"/><circle class="g" cx="605.4" cy="1464.9" r="9.15"/><circle class="g" cx="491.4" cy="1455.1" r="9.15"/><circle class="g" cx="627.2" cy="1545.5" r="9.15"/><circle class="g" cx="576.9" cy="1418.0" r="9.15"/><circle class="g" cx="483.0" cy="1376.6" r="9.15"/><circle class="g" cx="567.9" cy="1419.5" r="9.15"/><circle class="g" cx="516.2" cy="1452.0" r="9.15"/><circle class="r" cx="478.8" cy="1492.7" r="9.15"/><circle class="g" cx="519.5" cy="1423.0" r="9.15"/><circle class="r" cx="545.2" cy="1475.6" r="9.15"/><circle class="r" cx="442.2" cy="1534.1" r="9.15"/><circle class="g" cx="523.2" cy="1531.8" r="9.15"/><circle class="g" cx="629.1" cy="1537.4" r="9.15"/><circle class="g" cx="516.5" cy="1367.0" r="9.15"/><circle class="g" cx="512.5" cy="1359.3" r="9.15"/><circle class="g" cx="513.9" cy="1383.1" r="9.15"/><circle class="g" cx="537.6" cy="1350.7" r="9.15"/><circle class="g" cx="475.6" cy="1378.6" r="9.15"/><circle class="r" cx="553.3" cy="1510.3" r="9.15"/><circle class="g" cx="506.5" cy="1465.0" r="9.15"/><circle class="g" cx="492.8" cy="1380.1" r="9.15"/><circle class="g" cx="586.1" cy="1451.6" r="9.15"/><circle class="g" cx="512.6" cy="1545.5" r="9.15"/><circle class="g" cx="489.6" cy="1400.9" r="9.15"/><circle class="g" cx="585.6" cy="1356.8" r="9.15"/><circle class="g" cx="523.2" cy="1434.9" r="9.15"/><circle class="g" cx="523.4" cy="1418.6" r="9.15"/><circle class="g" cx="576.3" cy="1456.3" r="9.15"/><circle class="g" cx="477.9" cy="1420.6" r="9.15"/><circle class="g" cx="574.0" cy="1514.4" r="9.15"/><circle class="g" cx="468.7" cy="1446.3" r="9.15"/><circle class="g" cx="589.8" cy="1382.3" r="9.15"/><circle class="g" cx="583.9" cy="1418.3" r="9.15"/><circle class="r" cx="472.6" cy="1545.5" r="9.15"/><circle class="g" cx="545.4" cy="1393.9" r="9.15"/><circle class="g" cx="568.3" cy="1364.9" r="9.15"/><circle class="g" cx="504.7" cy="1535.5" r="9.15"/><circle class="r" cx="581.6" cy="1469.9" r="9.15"/><circle class="g" cx="505.3" cy="1412.1" r="9.15"/><circle class="g" cx="564.4" cy="1506.7" r="9.15"/><circle class="g" cx="589.7" cy="1397.0" r="9.15"/><circle class="g" cx="473.7" cy="1442.0" r="9.15"/><circle class="r" cx="589.9" cy="1545.5" r="9.15"/><circle class="g" cx="582.2" cy="1352.2" r="9.15"/><circle class="g" cx="595.6" cy="1396.1" r="9.15"/><circle class="g" cx="463.5" cy="1437.5" r="9.15"/><circle class="g" cx="526.2" cy="1387.7" r="9.15"/><circle class="g" cx="548.4" cy="1369.1" r="9.15"/><circle class="g" cx="551.0" cy="1338.3" r="9.15"/><circle class="g" cx="480.6" cy="1402.6" r="9.15"/><circle class="g" cx="451.6" cy="1483.2" r="9.15"/><circle class="r" cx="569.1" cy="1503.1" r="9.15"/><circle class="g" cx="516.6" cy="1463.8" r="9.15"/><circle class="g" cx="546.9" cy="1411.0" r="9.15"/><circle class="g" cx="533.3" cy="1519.1" r="9.15"/><circle class="g" cx="593.7" cy="1524.9" r="9.15"/><circle class="g" cx="623.4" cy="1542.7" r="9.15"/><circle class="r" cx="512.6" cy="1507.7" r="9.15"/><circle class="g" cx="554.7" cy="1369.6" r="9.15"/><circle class="g" cx="563.4" cy="1538.1" r="9.15"/><circle class="g" cx="541.4" cy="1404.4" r="9.15"/><circle class="r" cx="566.8" cy="1512.0" r="9.15"/><circle class="g" cx="555.9" cy="1486.2" r="9.15"/><circle class="g" cx="561.1" cy="1385.5" r="9.15"/><circle class="g" cx="552.6" cy="1427.0" r="9.15"/><circle class="r" cx="472.1" cy="1494.0" r="9.15"/><circle class="g" cx="509.5" cy="1404.8" r="9.15"/><circle class="g" cx="549.6" cy="1416.1" r="9.15"/><circle class="g" cx="546.0" cy="1545.5" r="9.15"/><circle class="g" cx="525.8" cy="1357.7" r="9.15"/><circle class="r" cx="563.2" cy="1488.5" r="9.15"/><circle class="g" cx="538.9" cy="1325.6" r="9.15"/><circle class="g" cx="435.0" cy="1473.9" r="9.15"/><circle class="g" cx="543.3" cy="1331.3" r="9.15"/><circle class="g" cx="528.2" cy="1461.3" r="9.15"/><circle class="g" cx="607.3" cy="1528.0" r="9.15"/><circle class="g" cx="602.2" cy="1348.5" r="9.15"/><circle class="r" cx="454.8" cy="1527.2" r="9.15"/><circle class="g" cx="573.8" cy="1317.5" r="9.15"/><circle class="g" cx="535.3" cy="1378.9" r="9.15"/><circle class="r" cx="547.1" cy="1494.1" r="9.15"/><circle class="r" cx="543.1" cy="1458.3" r="9.15"/><circle class="g" cx="527.7" cy="1350.2" r="9.15"/><circle class="r" cx="540.8" cy="1497.0" r="9.15"/><circle class="g" cx="580.5" cy="1325.4" r="9.15"/><circle class="g" cx="458.7" cy="1459.6" r="9.15"/><circle class="g" cx="568.7" cy="1447.5" r="9.15"/><circle class="g" cx="515.2" cy="1400.0" r="9.15"/><circle class="g" cx="535.2" cy="1368.9" r="9.15"/><circle class="g" cx="506.4" cy="1506.8" r="9.15"/><circle class="g" cx="500.5" cy="1366.0" r="9.15"/><circle class="g" cx="520.1" cy="1447.3" r="9.15"/><circle class="g" cx="569.0" cy="1388.5" r="9.15"/><circle class="g" cx="552.4" cy="1397.7" r="9.15"/><circle class="r" cx="532.8" cy="1545.5" r="9.15"/><circle class="g" cx="590.0" cy="1529.8" r="9.15"/><circle class="r" cx="492.2" cy="1509.6" r="9.15"/><circle class="g" cx="462.3" cy="1472.2" r="9.15"/><circle class="r" cx="553.5" cy="1544.5" r="9.15"/><circle class="g" cx="444.3" cy="1485.7" r="9.15"/><circle class="r" cx="499.4" cy="1514.7" r="9.15"/><circle class="r" cx="445.0" cy="1515.7" r="9.15"/><circle class="r" cx="611.7" cy="1533.3" r="9.15"/><circle class="g" cx="521.2" cy="1354.2" r="9.15"/><circle class="g" cx="511.5" cy="1448.5" r="9.15"/><circle class="r" cx="425.1" cy="1524.6" r="9.15"/><circle class="r" cx="508.8" cy="1545.5" r="9.15"/><circle class="g" cx="455.5" cy="1429.0" r="9.15"/><circle class="r" cx="601.5" cy="1492.7" r="9.15"/><circle class="g" cx="534.0" cy="1406.2" r="9.15"/><circle class="g" cx="550.7" cy="1345.1" r="9.15"/><circle class="g" cx="470.6" cy="1463.9" r="9.15"/><circle class="g" cx="434.9" cy="1466.4" r="9.15"/><circle class="r" cx="474.6" cy="1518.8" r="9.15"/><circle class="g" cx="499.2" cy="1372.7" r="9.15"/><circle class="g" cx="617.9" cy="1529.4" r="9.15"/><circle class="g" cx="546.8" cy="1428.2" r="9.15"/><circle class="g" cx="515.5" cy="1481.1" r="9.15"/><circle class="g" cx="465.5" cy="1545.5" r="9.15"/><circle class="r" cx="558.0" cy="1527.0" r="9.15"/><circle class="r" cx="569.7" cy="1483.9" r="9.15"/><circle class="g" cx="549.9" cy="1433.2" r="9.15"/><circle class="g" cx="588.8" cy="1492.0" r="9.15"/><circle class="g" cx="580.2" cy="1438.4" r="9.15"/><circle class="g" cx="531.5" cy="1524.4" r="9.15"/><circle class="r" cx="464.4" cy="1507.8" r="9.15"/><circle class="g" cx="556.1" cy="1454.3" r="9.15"/><circle class="g" cx="575.6" cy="1521.1" r="9.15"/><circle class="g" cx="524.1" cy="1451.5" r="9.15"/><circle class="r" cx="538.6" cy="1531.0" r="9.15"/><circle class="g" cx="550.6" cy="1381.2" r="9.15"/><circle class="g" cx="437.2" cy="1450.1" r="9.15"/><circle class="g" cx="549.0" cy="1440.1" r="9.15"/><circle class="r" cx="516.1" cy="1525.7" r="9.15"/><circle class="g" cx="531.9" cy="1443.4" r="9.15"/><circle class="r" cx="574.5" cy="1499.1" r="9.15"/><circle class="g" cx="517.0" cy="1470.5" r="9.15"/><circle class="g" cx="463.1" cy="1526.3" r="9.15"/><circle class="r" cx="446.6" cy="1493.7" r="9.15"/><circle class="g" cx="428.9" cy="1477.5" r="9.15"/><circle class="g" cx="571.5" cy="1476.4" r="9.15"/><circle class="g" cx="486.0" cy="1437.8" r="9.15"/><circle class="g" cx="559.7" cy="1439.3" r="9.15"/><circle class="g" cx="472.8" cy="1415.2" r="9.15"/><circle class="g" cx="513.1" cy="1342.0" r="9.15"/><circle class="g" cx="491.7" cy="1486.6" r="9.15"/><circle class="r" cx="472.8" cy="1505.6" r="9.15"/><circle class="g" cx="590.1" cy="1361.4" r="9.15"/><circle class="g" cx="594.2" cy="1495.1" r="9.15"/><circle class="g" cx="462.7" cy="1445.2" r="9.15"/><circle class="r" cx="447.3" cy="1478.2" r="9.15"/><circle class="r" cx="576.6" cy="1483.7" r="9.15"/><circle class="g" cx="595.6" cy="1452.6" r="9.15"/><circle class="g" cx="548.6" cy="1545.5" r="9.15"/><circle class="g" cx="560.5" cy="1397.1" r="9.15"/><circle class="r" cx="527.8" cy="1476.4" r="9.15"/><circle class="g" cx="541.1" cy="1448.1" r="9.15"/><circle class="g" cx="430.9" cy="1542.0" r="9.15"/><circle class="g" cx="503.0" cy="1431.5" r="9.15"/><circle class="g" cx="468.3" cy="1440.4" r="9.15"/><circle class="g" cx="569.9" cy="1461.9" r="9.15"/><circle class="r" cx="462.8" cy="1490.5" r="9.15"/><circle class="g" cx="588.8" cy="1510.8" r="9.15"/><circle class="g" cx="463.2" cy="1484.9" r="9.15"/><circle class="g" cx="477.5" cy="1448.6" r="9.15"/><circle class="g" cx="585.7" cy="1480.4" r="9.15"/><circle class="r" cx="596.2" cy="1540.6" r="9.15"/><circle class="g" cx="464.8" cy="1461.2" r="9.15"/><circle class="g" cx="577.8" cy="1526.3" r="9.15"/><circle class="r" cx="531.2" cy="1509.9" r="9.15"/><circle class="r" cx="547.4" cy="1519.6" r="9.15"/><circle class="g" cx="567.1" cy="1437.6" r="9.15"/><circle class="g" cx="538.9" cy="1516.9" r="9.15"/><circle class="g" cx="539.9" cy="1426.5" r="9.15"/><circle class="g" cx="485.2" cy="1426.3" r="9.15"/><circle class="g" cx="550.0" cy="1374.7" r="9.15"/><circle class="g" cx="506.5" cy="1454.2" r="9.15"/><circle class="r" cx="488.0" cy="1529.4" r="9.15"/><circle class="g" cx="480.1" cy="1391.5" r="9.15"/><circle class="g" cx="630.2" cy="1523.8" r="9.15"/><circle class="g" cx="458.9" cy="1531.3" r="9.15"/><circle class="g" cx="550.4" cy="1471.9" r="9.15"/><circle class="g" cx="514.5" cy="1426.7" r="9.15"/><circle class="g" cx="473.5" cy="1453.0" r="9.15"/><circle class="r" cx="489.4" cy="1545.5" r="9.15"/><circle class="g" cx="522.3" cy="1368.1" r="9.15"/><circle class="g" cx="540.2" cy="1396.7" r="9.15"/><circle class="r" cx="516.2" cy="1512.6" r="9.15"/><circle class="g" cx="442.7" cy="1545.5" r="9.15"/><circle class="r" cx="591.7" cy="1500.3" r="9.15"/><circle class="r" cx="582.7" cy="1488.0" r="9.15"/><circle class="g" cx="499.8" cy="1410.8" r="9.15"/><circle class="g" cx="534.4" cy="1345.3" r="9.15"/><circle class="g" cx="529.7" cy="1450.2" r="9.15"/><circle class="g" cx="517.6" cy="1434.2" r="9.15"/><circle class="g" cx="517.4" cy="1545.5" r="9.15"/><circle class="g" cx="508.6" cy="1345.8" r="9.15"/><circle class="g" cx="562.8" cy="1545.4" r="9.15"/><circle class="r" cx="452.1" cy="1521.2" r="9.15"/><circle class="g" cx="528.1" cy="1422.5" r="9.15"/><circle class="g" cx="543.3" cy="1357.8" r="9.15"/><circle class="r" cx="484.2" cy="1470.1" r="9.15"/><circle class="g" cx="479.5" cy="1460.9" r="9.15"/><circle class="g" cx="531.9" cy="1356.4" r="9.15"/><circle class="g" cx="503.7" cy="1404.2" r="9.15"/><circle class="g" cx="456.0" cy="1451.0" r="9.15"/><circle class="g" cx="452.2" cy="1424.5" r="9.15"/><circle class="g" cx="562.9" cy="1348.1" r="9.15"/><circle class="g" cx="541.2" cy="1463.7" r="9.15"/><circle class="g" cx="615.9" cy="1517.3" r="9.15"/><circle class="g" cx="560.0" cy="1365.2" r="9.15"/><circle class="g" cx="491.2" cy="1470.5" r="9.15"/><circle class="g" cx="578.2" cy="1334.6" r="9.15"/><circle class="g" cx="445.7" cy="1545.5" r="9.15"/><circle class="r" cx="599.4" cy="1524.9" r="9.15"/><circle class="g" cx="570.4" cy="1373.6" r="9.15"/><circle class="g" cx="531.8" cy="1498.7" r="9.15"/><circle class="g" cx="615.5" cy="1545.5" r="9.15"/><circle class="g" cx="568.8" cy="1450.7" r="9.15"/><circle class="r" cx="453.7" cy="1507.0" r="9.15"/><circle class="r" cx="564.6" cy="1520.0" r="9.15"/><circle class="g" cx="596.2" cy="1390.3" r="9.15"/><circle class="g" cx="582.4" cy="1399.2" r="9.15"/><circle class="r" cx="593.0" cy="1474.6" r="9.15"/><circle class="g" cx="523.1" cy="1464.9" r="9.15"/><circle class="g" cx="568.5" cy="1532.0" r="9.15"/><circle class="g" cx="620.0" cy="1545.5" r="9.15"/><circle class="r" cx="447.9" cy="1510.5" r="9.15"/><circle class="r" cx="583.2" cy="1511.3" r="9.15"/><circle class="r" cx="540.8" cy="1479.4" r="9.15"/><circle class="g" cx="527.4" cy="1504.6" r="9.15"/><circle class="g" cx="496.8" cy="1523.1" r="9.15"/><circle class="g" cx="590.6" cy="1328.8" r="9.15"/><circle class="g" cx="548.2" cy="1447.7" r="9.15"/><circle class="g" cx="577.0" cy="1348.7" r="9.15"/><circle class="g" cx="529.4" cy="1483.4" r="9.15"/><circle class="g" cx="541.3" cy="1386.4" r="9.15"/><circle class="g" cx="535.2" cy="1330.2" r="9.15"/><circle class="g" cx="543.2" cy="1433.4" r="9.15"/><circle class="g" cx="433.5" cy="1481.5" r="9.15"/><circle class="r" cx="467.4" cy="1517.2" r="9.15"/><circle class="g" cx="490.6" cy="1422.9" r="9.15"/><circle class="g" cx="591.0" cy="1367.1" r="9.15"/><circle class="r" cx="526.7" cy="1517.8" r="9.15"/><circle class="g" cx="604.1" cy="1474.0" r="9.15"/><circle class="g" cx="531.5" cy="1531.0" r="9.15"/><circle class="g" cx="491.0" cy="1406.8" r="9.15"/><circle class="g" cx="566.5" cy="1431.8" r="9.15"/><circle class="g" cx="576.3" cy="1398.0" r="9.15"/><circle class="g" cx="520.2" cy="1468.3" r="9.15"/><circle class="g" cx="544.2" cy="1339.6" r="9.15"/><circle class="r" cx="601.3" cy="1486.2" r="9.15"/><circle class="r" cx="449.7" cy="1488.7" r="9.15"/><circle class="g" cx="436.7" cy="1531.6" r="9.15"/><circle class="g" cx="499.5" cy="1465.4" r="9.15"/><circle class="g" cx="586.6" cy="1411.0" r="9.15"/><circle class="g" cx="543.7" cy="1348.8" r="9.15"/><circle class="g" cx="569.1" cy="1345.1" r="9.15"/><circle class="r" cx="587.4" cy="1545.5" r="9.15"/><circle class="r" cx="445.4" cy="1521.5" r="9.15"/><circle class="g" cx="534.2" cy="1412.1" r="9.15"/><circle class="g" cx="517.3" cy="1350.0" r="9.15"/><circle class="g" cx="544.5" cy="1378.5" r="9.15"/><circle class="g" cx="560.8" cy="1424.4" r="9.15"/><circle class="g" cx="524.2" cy="1337.6" r="9.15"/><circle class="r" cx="616.7" cy="1540.9" r="9.15"/><circle class="r" cx="599.2" cy="1545.5" r="9.15"/><circle class="g" cx="582.5" cy="1545.5" r="9.15"/><circle class="g" cx="518.5" cy="1392.6" r="9.15"/><circle class="g" cx="554.5" cy="1361.2" r="9.15"/><circle class="g" cx="589.9" cy="1372.9" r="9.15"/><circle class="r" cx="472.8" cy="1530.9" r="9.15"/><circle class="g" cx="588.4" cy="1518.5" r="9.15"/><circle class="r" cx="590.6" cy="1447.9" r="9.15"/><circle class="g" cx="460.5" cy="1479.9" r="9.15"/><circle class="g" cx="525.9" cy="1412.3" r="9.15"/><circle class="g" cx="545.9" cy="1421.4" r="9.15"/><circle class="r" cx="510.6" cy="1538.8" r="9.15"/><circle class="g" cx="482.1" cy="1545.5" r="9.15"/><circle class="r" cx="627.7" cy="1531.2" r="9.15"/><circle class="g" cx="477.9" cy="1407.6" r="9.15"/><circle class="g" cx="523.0" cy="1397.3" r="9.15"/><circle class="g" cx="442.2" cy="1508.2" r="9.15"/><circle class="g" cx="499.4" cy="1470.3" r="9.15"/><circle class="g" cx="520.3" cy="1441.6" r="9.15"/><circle class="g" cx="501.8" cy="1379.4" r="9.15"/><circle class="g" cx="440.5" cy="1477.9" r="9.15"/><circle class="g" cx="580.8" cy="1411.8" r="9.15"/><circle class="g" cx="508.5" cy="1396.2" r="9.15"/><circle class="g" cx="513.8" cy="1531.5" r="9.15"/><circle class="g" cx="559.7" cy="1447.1" r="9.15"/><circle class="r" cx="596.8" cy="1489.6" r="9.15"/><circle class="g" cx="485.5" cy="1410.9" r="9.15"/><circle class="g" cx="483.5" cy="1456.1" r="9.15"/><circle class="g" cx="526.7" cy="1405.6" r="9.15"/><circle class="g" cx="483.5" cy="1396.1" r="9.15"/><circle class="g" cx="516.1" cy="1408.3" r="9.15"/><circle class="g" cx="517.3" cy="1488.2" r="9.15"/><circle class="g" cx="522.0" cy="1542.5" r="9.15"/><circle class="g" cx="556.3" cy="1346.2" r="9.15"/><circle class="g" cx="473.9" cy="1542.9" r="9.15"/><circle class="r" cx="582.4" cy="1447.0" r="9.15"/><circle class="g" cx="470.9" cy="1458.1" r="9.15"/><circle class="r" cx="428.9" cy="1492.8" r="9.15"/><circle class="r" cx="547.3" cy="1462.2" r="9.15"/><circle class="g" cx="574.8" cy="1341.8" r="9.15"/><circle class="g" cx="542.7" cy="1490.4" r="9.15"/><circle class="g" cx="477.7" cy="1545.5" r="9.15"/><circle class="g" cx="562.9" cy="1448.0" r="9.15"/><circle class="r" cx="572.0" cy="1489.3" r="9.15"/><circle class="g" cx="526.1" cy="1445.7" r="9.15"/><circle class="g" cx="564.9" cy="1369.9" r="9.15"/><circle class="g" cx="437.4" cy="1545.5" r="9.15"/><circle class="g" cx="506.2" cy="1361.5" r="9.15"/><circle class="r" cx="428.6" cy="1529.3" r="9.15"/><circle class="g" cx="493.1" cy="1461.9" r="9.15"/><circle class="g" cx="573.0" cy="1331.5" r="9.15"/><circle class="r" cx="577.4" cy="1463.6" r="9.15"/><circle class="g" cx="472.0" cy="1371.0" r="9.15"/><circle class="r" cx="502.7" cy="1485.9" r="9.15"/><circle class="g" cx="509.7" cy="1352.5" r="9.15"/><circle class="g" cx="497.2" cy="1482.7" r="9.15"/><circle class="g" cx="460.4" cy="1468.5" r="9.15"/><circle class="r" cx="526.3" cy="1491.2" r="9.15"/><circle class="g" cx="440.6" cy="1461.4" r="9.15"/><circle class="r" cx="561.8" cy="1473.6" r="9.15"/><circle class="g" cx="454.9" cy="1545.5" r="9.15"/><circle class="g" cx="573.6" cy="1433.4" r="9.15"/><circle class="r" cx="544.7" cy="1485.1" r="9.15"/><circle class="g" cx="526.9" cy="1430.3" r="9.15"/><circle class="g" cx="436.1" cy="1492.5" r="9.15"/><circle class="g" cx="585.7" cy="1403.8" r="9.15"/><circle class="r" cx="479.4" cy="1524.8" r="9.15"/><circle class="g" cx="562.8" cy="1333.0" r="9.15"/><circle class="g" cx="529.6" cy="1544.3" r="9.15"/><circle class="g" cx="450.3" cy="1470.9" r="9.15"/><circle class="g" cx="584.8" cy="1338.4" r="9.15"/><circle class="g" cx="497.3" cy="1429.1" r="9.15"/><circle class="r" cx="498.7" cy="1507.3" r="9.15"/><circle class="g" cx="571.6" cy="1413.5" r="9.15"/><circle class="g" cx="478.6" cy="1478.2" r="9.15"/><circle class="r" cx="509.5" cy="1489.2" r="9.15"/><circle class="g" cx="455.5" cy="1439.6" r="9.15"/><circle class="g" cx="510.6" cy="1369.2" r="9.15"/><circle class="g" cx="492.2" cy="1469.0" r="9.15"/><circle class="g" cx="553.1" cy="1444.9" r="9.15"/><circle class="g" cx="594.0" cy="1333.4" r="9.15"/><circle class="g" cx="553.1" cy="1351.6" r="9.15"/><circle class="g" cx="562.8" cy="1359.7" r="9.15"/><circle class="g" cx="595.3" cy="1545.5" r="9.15"/><circle class="g" cx="591.4" cy="1536.7" r="9.15"/><circle class="r" cx="567.7" cy="1493.3" r="9.15"/><circle class="g" cx="594.2" cy="1402.5" r="9.15"/><circle class="r" cx="563.1" cy="1479.9" r="9.15"/><circle class="g" cx="546.8" cy="1388.3" r="9.15"/><circle class="r" cx="586.0" cy="1540.1" r="9.15"/><circle class="r" cx="457.4" cy="1492.4" r="9.15"/><circle class="g" cx="505.2" cy="1471.2" r="9.15"/><circle class="g" cx="439.4" cy="1520.4" r="9.15"/><circle class="g" cx="622.8" cy="1545.5" r="9.15"/><circle class="r" cx="499.6" cy="1545.5" r="9.15"/><circle class="g" cx="482.1" cy="1517.6" r="9.15"/><circle class="g" cx="566.8" cy="1315.6" r="9.15"/><circle class="g" cx="574.1" cy="1533.6" r="9.15"/><circle class="r" cx="583.0" cy="1497.3" r="9.15"/><circle class="r" cx="596.0" cy="1532.8" r="9.15"/><circle class="g" cx="565.9" cy="1545.5" r="9.15"/><circle class="r" cx="545.7" cy="1468.2" r="9.15"/><circle class="g" cx="573.9" cy="1353.5" r="9.15"/><circle class="r" cx="496.7" cy="1500.6" r="9.15"/><circle class="g" cx="554.3" cy="1388.1" r="9.15"/><circle class="g" cx="497.1" cy="1361.2" r="9.15"/><circle class="g" cx="511.9" cy="1500.1" r="9.15"/><circle class="g" cx="494.4" cy="1545.5" r="9.15"/><circle class="g" cx="524.4" cy="1331.2" r="9.15"/><circle class="g" cx="547.2" cy="1405.1" r="9.15"/><circle class="g" cx="454.9" cy="1478.3" r="9.15"/><circle class="g" cx="563.2" cy="1408.6" r="9.15"/><circle class="g" cx="597.6" cy="1514.4" r="9.15"/><circle class="g" cx="530.6" cy="1334.6" r="9.15"/><circle class="g" cx="484.8" cy="1545.5" r="9.15"/><circle class="g" cx="636.9" cy="1247.5" r="9.15"/><circle class="g" cx="611.1" cy="1290.1" r="9.15"/><circle class="g" cx="623.7" cy="1314.6" r="9.15"/><circle class="g" cx="682.1" cy="1322.1" r="9.15"/><circle class="g" cx="673.8" cy="1345.4" r="9.15"/><circle class="g" cx="659.4" cy="1375.8" r="9.15"/><circle class="g" cx="678.7" cy="1400.3" r="9.15"/><circle class="g" cx="607.7" cy="1419.7" r="9.15"/><circle class="g" cx="625.8" cy="1335.8" r="9.15"/><circle class="g" cx="635.6" cy="1334.5" r="9.15"/><circle class="g" cx="645.2" cy="1350.8" r="9.15"/><circle class="g" cx="623.2" cy="1351.3" r="9.15"/><circle class="g" cx="621.9" cy="1366.3" r="9.15"/><circle class="g" cx="607.7" cy="1333.2" r="9.15"/><circle class="g" cx="609.0" cy="1351.3" r="9.15"/><circle class="g" cx="598.7" cy="1344.8" r="9.15"/><circle class="g" cx="465.8" cy="1369.4" r="9.15"/><circle class="g" cx="471.0" cy="1381.0" r="9.15"/><circle class="g" cx="481.3" cy="1395.2" r="9.15"/><circle class="g" cx="473.5" cy="1410.6" r="9.15"/><circle class="g" cx="445.2" cy="1423.0" r="9.15"/><circle class="g" cx="436.1" cy="1440.3" r="9.15"/><circle class="g" cx="421.9" cy="1454.0" r="9.15"/><circle class="g" cx="434.8" cy="1470.0" r="9.15"/><circle class="g" cx="425.8" cy="1488.1" r="9.15"/><circle class="g" cx="434.8" cy="1491.9" r="9.15"/><circle class="g" cx="514.8" cy="1329.4" r="9.15"/><circle class="g" cx="527.7" cy="1334.5" r="9.15"/><circle class="g" cx="538.1" cy="1324.2" r="9.15"/><circle class="g" cx="553.5" cy="1317.7" r="9.15"/><circle class="g" cx="571.6" cy="1308.7" r="9.15"/><circle class="g" cx="583.2" cy="1310.0" r="9.15"/><circle class="g" cx="589.7" cy="1324.2" r="9.15"/><circle class="g" cx="601.3" cy="1337.1" r="9.15"/><circle class="r" cx="385.0" cy="1530.1" r="9.15"/><circle class="r" cx="409.0" cy="1528.1" r="9.15"/><circle class="r" cx="412.4" cy="1537.9" r="9.15"/><circle class="r" cx="552.3" cy="1400.3" r="9.15"/><circle class="r" cx="451.6" cy="1475.2" r="9.15"/><circle class="g" cx="607.6" cy="1421.5" r="9.15"/><circle class="g" cx="575.6" cy="1425.2" r="9.15"/><circle class="g" cx="559.6" cy="1426.2" r="9.15"/><circle class="g" cx="586.5" cy="1422.1" r="9.15"/><circle class="g" cx="580.8" cy="1439.1" r="9.15"/><circle class="g" cx="559.6" cy="1445.3" r="9.15"/><circle class="g" cx="572.5" cy="1456.6" r="9.15"/><circle class="g" cx="593.2" cy="1456.1" r="9.15"/><circle class="g" cx="604.5" cy="1463.9" r="9.15"/><circle class="g" cx="633.9" cy="1465.4" r="9.15"/><circle class="g" cx="625.7" cy="1477.3" r="9.15"/><circle class="g" cx="607.1" cy="1479.9" r="9.15"/><circle class="g" cx="591.6" cy="1491.2" r="9.15"/><circle class="g" cx="669.5" cy="1491.2" r="9.15"/><circle class="g" cx="629.8" cy="1503.6" r="9.15"/><circle class="g" cx="641.7" cy="1499.5" r="9.15"/><circle class="g" cx="643.2" cy="1509.8" r="9.15"/><circle class="g" cx="571.0" cy="1511.4" r="9.15"/><circle class="g" cx="577.2" cy="1522.2" r="9.15"/><circle class="g" cx="605.0" cy="1521.7" r="9.15"/><circle class="g" cx="627.7" cy="1521.7" r="9.15"/><circle class="g" cx="621.5" cy="1532.5" r="9.15"/><circle class="g" cx="629.8" cy="1528.4" r="9.15"/><circle class="g" cx="551.4" cy="1532.5" r="9.15"/><circle class="g" cx="591.6" cy="1537.7" r="9.15"/><circle class="g" cx="646.3" cy="1529.4" r="9.15"/><circle class="g" cx="622.6" cy="1543.9" r="9.15"/><circle class="g" cx="544.1" cy="1498.5" r="9.15"/><circle class="r" cx="603.5" cy="1447.4" r="9.15"/><circle class="r" cx="577.7" cy="1449.9" r="9.15"/><circle class="r" cx="621.0" cy="1456.6" r="9.15"/><circle class="r" cx="649.9" cy="1477.3" r="9.15"/><circle class="r" cx="555.5" cy="1471.6" r="9.15"/><circle class="r" cx="569.4" cy="1477.8" r="9.15"/><circle class="r" cx="591.6" cy="1480.9" r="9.15"/><circle class="r" cx="559.1" cy="1485.5" r="9.15"/><circle class="r" cx="614.3" cy="1491.2" r="9.15"/><circle class="r" cx="628.8" cy="1490.2" r="9.15"/><circle class="r" cx="651.5" cy="1491.2" r="9.15"/><circle class="r" cx="567.4" cy="1498.5" r="9.15"/><circle class="r" cx="593.7" cy="1504.1" r="9.15"/><circle class="r" cx="621.5" cy="1498.5" r="9.15"/><circle class="r" cx="647.4" cy="1515.5" r="9.15"/><circle class="r" cx="660.8" cy="1530.5" r="9.15"/><circle class="r" cx="596.8" cy="1530.5" r="9.15"/><circle class="r" cx="575.1" cy="1536.6" r="9.15"/><circle class="r" cx="604.0" cy="1512.9" r="9.15"/><circle class="r" cx="785.5" cy="1535.2" r="9.15"/><circle class="r" cx="694.1" cy="1545.5" r="9.15"/><circle class="g" cx="744.9" cy="1460.8" r="9.15"/><circle class="g" cx="788.6" cy="1465.4" r="9.15"/><circle class="g" cx="790.3" cy="1476.7" r="9.15"/><circle class="g" cx="738.7" cy="1489.7" r="9.15"/><circle class="g" cx="735.4" cy="1499.7" r="9.15"/><circle class="g" cx="806.2" cy="1493.5" r="9.15"/><circle class="g" cx="802.1" cy="1500.5" r="9.15"/><circle class="g" cx="802.1" cy="1500.7" r="9.15"/><circle class="g" cx="782.0" cy="1502.1" r="9.15"/><circle class="g" cx="780.4" cy="1517.4" r="9.15"/><circle class="g" cx="698.2" cy="1508.3" r="9.15"/><circle class="g" cx="712.7" cy="1521.1" r="9.15"/><circle class="g" cx="780.4" cy="1517.2" r="9.15"/><circle class="g" cx="765.9" cy="1526.9" r="9.15"/><circle class="g" cx="820.6" cy="1527.9" r="9.15"/><circle class="g" cx="737.0" cy="1528.6" r="9.15"/><circle class="g" cx="757.7" cy="1535.2" r="9.15"/><circle class="g" cx="765.9" cy="1534.1" r="9.15"/><circle class="g" cx="793.2" cy="1534.5" r="9.15"/><circle class="g" cx="780.4" cy="1541.4" r="9.15"/><circle class="g" cx="740.5" cy="1544.5" r="9.15"/><circle class="g" cx="725.3" cy="1545.1" r="9.15"/><circle class="g" cx="697.8" cy="1545.5" r="9.15"/><circle class="g" cx="945.1" cy="1494.9" r="9.15"/><circle class="g" cx="901.2" cy="1524.2" r="9.15"/><circle class="g" cx="923.9" cy="1542.8" r="9.15"/><circle class="r" cx="722.0" cy="1505.2" r="9.15"/><circle class="r" cx="728.8" cy="1512.0" r="9.15"/><circle class="r" cx="741.6" cy="1523.8" r="9.15"/><circle class="r" cx="783.9" cy="1486.2" r="9.15"/><circle class="r" cx="1022.6" cy="1535.2" r="9.15"/><circle class="r" cx="1158.4" cy="1479.4" r="9.15"/><circle class="r" cx="1179.5" cy="1515.5" r="9.15"/><circle class="g" cx="1017.4" cy="1454.6" r="9.15"/><circle class="g" cx="1019.1" cy="1482.9" r="9.15"/><circle class="g" cx="1024.0" cy="1503.6" r="9.15"/><circle class="g" cx="978.8" cy="1526.5" r="9.15"/><circle class="g" cx="1014.3" cy="1545.5" r="9.15"/><circle class="g" cx="1167.5" cy="1427.8" r="9.15"/><circle class="g" cx="1199.7" cy="1425.1" r="9.15"/><circle class="g" cx="1183.6" cy="1447.4" r="9.15"/><circle class="g" cx="1123.7" cy="1452.6" r="9.15"/><circle class="g" cx="1127.5" cy="1455.7" r="9.15"/><circle class="g" cx="1135.1" cy="1468.1" r="9.15"/><circle class="g" cx="1114.5" cy="1474.3" r="9.15"/><circle class="g" cx="1117.5" cy="1472.2" r="9.15"/><circle class="g" cx="1152.6" cy="1472.6" r="9.15"/><circle class="g" cx="1154.7" cy="1477.4" r="9.15"/><circle class="g" cx="1135.1" cy="1487.7" r="9.15"/><circle class="g" cx="1127.5" cy="1491.2" r="9.15"/><circle class="g" cx="1128.5" cy="1502.1" r="9.15"/><circle class="g" cx="1214.6" cy="1484.2" r="9.15"/><circle class="g" cx="1206.3" cy="1486.6" r="9.15"/><circle class="g" cx="1174.3" cy="1494.5" r="9.15"/><circle class="g" cx="1179.5" cy="1493.9" r="9.15"/><circle class="g" cx="1198.1" cy="1495.9" r="9.15"/><circle class="g" cx="1193.5" cy="1503.8" r="9.15"/><circle class="g" cx="1167.1" cy="1509.4" r="9.15"/><circle class="g" cx="1172.3" cy="1517.6" r="9.15"/><circle class="g" cx="1204.7" cy="1545.1" r="9.15"/><circle class="r" cx="967.5" cy="1540.7" r="9.15"/><circle class="r" cx="1167.7" cy="1469.1" r="9.15"/><circle class="r" cx="1099.6" cy="1508.3" r="9.15"/><circle class="r" cx="1145.0" cy="1525.5" r="9.15"/><circle class="r" cx="1131.6" cy="1535.6" r="9.15"/><circle class="r" cx="1170.2" cy="1531.7" r="9.15"/><circle class="r" cx="1180.5" cy="1536.6" r="9.15"/><circle class="r" cx="1233.6" cy="1518.0" r="9.15"/><circle class="g" cx="1173.7" cy="1078.6" r="9.15"/><circle class="g" cx="1178.9" cy="1067.7" r="9.15"/><circle class="g" cx="1179.2" cy="1069.9" r="9.15"/><circle class="g" cx="1178.9" cy="1068.9" r="9.15"/><circle class="g" cx="1173.9" cy="1097.1" r="9.15"/><circle class="g" cx="1193.1" cy="1092.1" r="9.15"/><circle class="g" cx="1238.3" cy="1097.1" r="9.15"/><circle class="g" cx="1254.7" cy="1065.2" r="9.15"/><circle class="g" cx="1214.1" cy="1118.9" r="9.15"/><circle class="g" cx="1183.4" cy="1143.7" r="9.15"/><circle class="r" cx="1085.3" cy="1117.7" r="9.15"/><circle class="r" cx="1093.3" cy="1201.1" r="9.15"/><circle class="g" cx="473.0" cy="2350.4" r="9.9"/><circle class="r" cx="333.4" cy="2290.7" r="9.9"/><circle class="r" cx="333.4" cy="2330.5" r="9.9"/><circle class="g" cx="286.8" cy="2330.5" r="9.9"/><circle class="g" cx="519.5" cy="2290.7" r="9.9"/><circle class="r" cx="240.3" cy="2290.7" r="9.9"/><circle class="g" cx="286.8" cy="2251.0" r="9.9"/><circle class="g" cx="457.4" cy="2260.9" r="9.9"/><circle class="g" cx="302.3" cy="2310.6" r="9.9"/><circle class="r" cx="333.4" cy="2241.0" r="9.9"/><circle class="g" cx="302.3" cy="2280.8" r="9.9"/><circle class="g" cx="255.8" cy="2360.3" r="9.9"/><circle class="r" cx="410.9" cy="2360.3" r="9.9"/><circle class="g" cx="317.9" cy="2330.5" r="9.9"/><circle class="g" cx="488.5" cy="2340.4" r="9.9"/><circle class="g" cx="348.9" cy="2310.6" r="9.9"/><circle class="r" cx="240.3" cy="2350.4" r="9.9"/><circle class="r" cx="441.9" cy="2280.8" r="9.9"/><circle class="g" cx="410.9" cy="2290.7" r="9.9"/><circle class="g" cx="364.4" cy="2340.4" r="9.9"/><circle class="r" cx="333.4" cy="2231.1" r="9.9"/><circle class="r" cx="240.3" cy="2320.5" r="9.9"/><circle class="g" cx="457.4" cy="2340.4" r="9.9"/><circle class="r" cx="426.4" cy="2360.3" r="9.9"/><circle class="g" cx="395.4" cy="2270.8" r="9.9"/><circle class="g" cx="426.4" cy="2340.4" r="9.9"/><circle class="r" cx="473.0" cy="2251.0" r="9.9"/><circle class="g" cx="286.8" cy="2280.8" r="9.9"/><circle class="g" cx="286.8" cy="2350.4" r="9.9"/><circle class="r" cx="379.9" cy="2251.0" r="9.9"/><circle class="r" cx="271.3" cy="2340.4" r="9.9"/><circle class="g" cx="410.9" cy="2360.3" r="9.9"/><circle class="r" cx="302.3" cy="2300.7" r="9.9"/><circle class="g" cx="535.0" cy="2290.7" r="9.9"/><circle class="g" cx="535.0" cy="2310.6" r="9.9"/><circle class="g" cx="255.8" cy="2310.6" r="9.9"/><circle class="r" cx="302.3" cy="2280.8" r="9.9"/><circle class="g" cx="410.9" cy="2300.7" r="9.9"/><circle class="g" cx="488.5" cy="2280.8" r="9.9"/><circle class="g" cx="535.0" cy="2330.5" r="9.9"/><circle class="r" cx="286.8" cy="2290.7" r="9.9"/><circle class="r" cx="426.4" cy="2260.9" r="9.9"/><circle class="r" cx="457.4" cy="2231.1" r="9.9"/><circle class="r" cx="333.4" cy="2320.5" r="9.9"/><circle class="g" cx="504.0" cy="2360.3" r="9.9"/><circle class="g" cx="410.9" cy="2280.8" r="9.9"/><circle class="r" cx="441.9" cy="2270.8" r="9.9"/><circle class="g" cx="441.9" cy="2350.4" r="9.9"/><circle class="r" cx="271.3" cy="2231.1" r="9.9"/><circle class="g" cx="441.9" cy="2320.5" r="9.9"/><circle class="r" cx="317.9" cy="2260.9" r="9.9"/><circle class="g" cx="535.0" cy="2300.7" r="9.9"/><circle class="r" cx="255.8" cy="2290.7" r="9.9"/><circle class="r" cx="240.3" cy="2300.7" r="9.9"/><circle class="g" cx="271.3" cy="2241.0" r="9.9"/><circle class="r" cx="286.8" cy="2280.8" r="9.9"/><circle class="g" cx="379.9" cy="2260.9" r="9.9"/><circle class="r" cx="317.9" cy="2290.7" r="9.9"/><circle class="g" cx="379.9" cy="2231.1" r="9.9"/><circle class="g" cx="473.0" cy="2340.4" r="9.9"/><circle class="g" cx="410.9" cy="2320.5" r="9.9"/><circle class="r" cx="286.8" cy="2251.0" r="9.9"/><circle class="g" cx="426.4" cy="2310.6" r="9.9"/><circle class="g" cx="410.9" cy="2270.8" r="9.9"/><circle class="r" cx="473.0" cy="2260.9" r="9.9"/><circle class="r" cx="410.9" cy="2231.1" r="9.9"/><circle class="r" cx="364.4" cy="2280.8" r="9.9"/><circle class="r" cx="364.4" cy="2241.0" r="9.9"/><circle class="r" cx="302.3" cy="2260.9" r="9.9"/><circle class="r" cx="255.8" cy="2340.4" r="9.9"/><circle class="r" cx="333.4" cy="2280.8" r="9.9"/><circle class="r" cx="379.9" cy="2350.4" r="9.9"/><circle class="r" cx="302.3" cy="2320.5" r="9.9"/><circle class="r" cx="317.9" cy="2350.4" r="9.9"/><circle class="r" cx="379.9" cy="2260.9" r="9.9"/><circle class="g" cx="426.4" cy="2360.3" r="9.9"/><circle class="r" cx="395.4" cy="2320.5" r="9.9"/><circle class="g" cx="535.0" cy="2360.3" r="9.9"/><circle class="r" cx="473.0" cy="2241.0" r="9.9"/><circle class="g" cx="379.9" cy="2290.7" r="9.9"/><circle class="g" cx="395.4" cy="2251.0" r="9.9"/><circle class="r" cx="333.4" cy="2300.7" r="9.9"/><circle class="r" cx="317.9" cy="2310.6" r="9.9"/><circle class="r" cx="410.9" cy="2270.8" r="9.9"/><circle class="r" cx="348.9" cy="2300.7" r="9.9"/><circle class="g" cx="364.4" cy="2350.4" r="9.9"/><circle class="g" cx="410.9" cy="2310.6" r="9.9"/><circle class="r" cx="519.5" cy="2330.5" r="9.9"/><circle class="g" cx="255.8" cy="2320.5" r="9.9"/><circle class="r" cx="302.3" cy="2340.4" r="9.9"/><circle class="r" cx="286.8" cy="2340.4" r="9.9"/><circle class="r" cx="441.9" cy="2260.9" r="9.9"/><circle class="r" cx="348.9" cy="2290.7" r="9.9"/><circle class="r" cx="271.3" cy="2270.8" r="9.9"/><circle class="g" cx="441.9" cy="2280.8" r="9.9"/><circle class="g" cx="441.9" cy="2360.3" r="9.9"/><circle class="g" cx="395.4" cy="2241.0" r="9.9"/><circle class="r" cx="348.9" cy="2260.9" r="9.9"/><circle class="r" cx="426.4" cy="2241.0" r="9.9"/><circle class="g" cx="519.5" cy="2320.5" r="9.9"/><circle class="g" cx="286.8" cy="2320.5" r="9.9"/><circle class="r" cx="426.4" cy="2251.0" r="9.9"/><circle class="r" cx="240.3" cy="2251.0" r="9.9"/><circle class="r" cx="240.3" cy="2340.4" r="9.9"/><circle class="g" cx="379.9" cy="2241.0" r="9.9"/><circle class="r" cx="364.4" cy="2231.1" r="9.9"/><circle class="r" cx="286.8" cy="2310.6" r="9.9"/><circle class="g" cx="302.3" cy="2241.0" r="9.9"/><circle class="r" cx="240.3" cy="2270.8" r="9.9"/><circle class="r" cx="504.0" cy="2320.5" r="9.9"/><circle class="r" cx="348.9" cy="2320.5" r="9.9"/><circle class="r" cx="457.4" cy="2300.7" r="9.9"/><circle class="g" cx="550.5" cy="2360.3" r="9.9"/><circle class="g" cx="317.9" cy="2360.3" r="9.9"/><circle class="r" cx="441.9" cy="2231.1" r="9.9"/><circle class="g" cx="379.9" cy="2280.8" r="9.9"/><circle class="r" cx="473.0" cy="2350.4" r="9.9"/><circle class="g" cx="395.4" cy="2350.4" r="9.9"/><circle class="r" cx="333.4" cy="2260.9" r="9.9"/><circle class="r" cx="364.4" cy="2290.7" r="9.9"/><circle class="r" cx="302.3" cy="2330.5" r="9.9"/><circle class="g" cx="457.4" cy="2310.6" r="9.9"/><circle class="r" cx="286.8" cy="2231.1" r="9.9"/><circle class="g" cx="333.4" cy="2310.6" r="9.9"/><circle class="r" cx="364.4" cy="2270.8" r="9.9"/><circle class="r" cx="379.9" cy="2270.8" r="9.9"/><circle class="g" cx="457.4" cy="2360.3" r="9.9"/><circle class="g" cx="379.9" cy="2360.3" r="9.9"/><circle class="r" cx="473.0" cy="2290.7" r="9.9"/><circle class="g" cx="271.3" cy="2310.6" r="9.9"/><circle class="r" cx="410.9" cy="2340.4" r="9.9"/><circle class="g" cx="488.5" cy="2310.6" r="9.9"/><circle class="g" cx="364.4" cy="2300.7" r="9.9"/><circle class="g" cx="240.3" cy="2330.5" r="9.9"/><circle class="g" cx="364.4" cy="2360.3" r="9.9"/><circle class="r" cx="240.3" cy="2260.9" r="9.9"/><circle class="g" cx="504.0" cy="2270.8" r="9.9"/><circle class="r" cx="395.4" cy="2290.7" r="9.9"/><circle class="g" cx="286.8" cy="2360.3" r="9.9"/><circle class="g" cx="488.5" cy="2300.7" r="9.9"/><circle class="g" cx="457.4" cy="2290.7" r="9.9"/><circle class="r" cx="302.3" cy="2350.4" r="9.9"/><circle class="g" cx="395.4" cy="2260.9" r="9.9"/><circle class="g" cx="441.9" cy="2340.4" r="9.9"/><circle class="r" cx="348.9" cy="2221.1" r="9.9"/><circle class="g" cx="504.0" cy="2330.5" r="9.9"/><circle class="r" cx="240.3" cy="2330.5" r="9.9"/><circle class="g" cx="457.4" cy="2330.5" r="9.9"/><circle class="r" cx="379.9" cy="2340.4" r="9.9"/><circle class="r" cx="240.3" cy="2280.8" r="9.9"/><circle class="r" cx="302.3" cy="2241.0" r="9.9"/><circle class="g" cx="504.0" cy="2260.9" r="9.9"/><circle class="r" cx="348.9" cy="2251.0" r="9.9"/><circle class="r" cx="457.4" cy="2280.8" r="9.9"/><circle class="g" cx="333.4" cy="2231.1" r="9.9"/><circle class="r" cx="348.9" cy="2231.1" r="9.9"/><circle class="g" cx="473.0" cy="2290.7" r="9.9"/><circle class="g" cx="473.0" cy="2270.8" r="9.9"/><circle class="r" cx="255.8" cy="2320.5" r="9.9"/><circle class="r" cx="395.4" cy="2310.6" r="9.9"/><circle class="r" cx="473.0" cy="2280.8" r="9.9"/><circle class="g" cx="426.4" cy="2330.5" r="9.9"/><circle class="r" cx="441.9" cy="2300.7" r="9.9"/><circle class="r" cx="364.4" cy="2251.0" r="9.9"/><circle class="r" cx="302.3" cy="2290.7" r="9.9"/><circle class="r" cx="488.5" cy="2290.7" r="9.9"/><circle class="g" cx="271.3" cy="2300.7" r="9.9"/><circle class="g" cx="395.4" cy="2340.4" r="9.9"/><circle class="r" cx="271.3" cy="2280.8" r="9.9"/><circle class="r" cx="255.8" cy="2350.4" r="9.9"/><circle class="r" cx="441.9" cy="2330.5" r="9.9"/><circle class="g" cx="271.3" cy="2290.7" r="9.9"/><circle class="r" cx="457.4" cy="2310.6" r="9.9"/><circle class="g" cx="379.9" cy="2310.6" r="9.9"/><circle class="g" cx="240.3" cy="2340.4" r="9.9"/><circle class="g" cx="317.9" cy="2231.1" r="9.9"/><circle class="g" cx="286.8" cy="2290.7" r="9.9"/><circle class="r" cx="364.4" cy="2221.1" r="9.9"/><circle class="r" cx="302.3" cy="2270.8" r="9.9"/><circle class="g" cx="426.4" cy="2290.7" r="9.9"/><circle class="r" cx="410.9" cy="2260.9" r="9.9"/><circle class="g" cx="504.0" cy="2310.6" r="9.9"/><circle class="r" cx="364.4" cy="2360.3" r="9.9"/><circle class="r" cx="271.3" cy="2241.0" r="9.9"/><circle class="r" cx="255.8" cy="2300.7" r="9.9"/><circle class="r" cx="535.0" cy="2320.5" r="9.9"/><circle class="r" cx="441.9" cy="2320.5" r="9.9"/><circle class="g" cx="240.3" cy="2360.3" r="9.9"/><circle class="g" cx="441.9" cy="2330.5" r="9.9"/><circle class="r" cx="286.8" cy="2300.7" r="9.9"/><circle class="r" cx="271.3" cy="2290.7" r="9.9"/><circle class="g" cx="395.4" cy="2290.7" r="9.9"/><circle class="g" cx="364.4" cy="2231.1" r="9.9"/><circle class="r" cx="379.9" cy="2280.8" r="9.9"/><circle class="g" cx="302.3" cy="2320.5" r="9.9"/><circle class="r" cx="317.9" cy="2221.1" r="9.9"/><circle class="g" cx="457.4" cy="2270.8" r="9.9"/><circle class="g" cx="519.5" cy="2280.8" r="9.9"/><circle class="r" cx="286.8" cy="2360.3" r="9.9"/><circle class="r" cx="410.9" cy="2320.5" r="9.9"/><circle class="g" cx="255.8" cy="2330.5" r="9.9"/><circle class="r" cx="426.4" cy="2330.5" r="9.9"/><circle class="r" cx="441.9" cy="2290.7" r="9.9"/><circle class="r" cx="333.4" cy="2270.8" r="9.9"/><circle class="g" cx="395.4" cy="2360.3" r="9.9"/><circle class="r" cx="395.4" cy="2260.9" r="9.9"/><circle class="r" cx="348.9" cy="2280.8" r="9.9"/><circle class="g" cx="550.5" cy="2290.7" r="9.9"/><circle class="r" cx="426.4" cy="2320.5" r="9.9"/><circle class="r" cx="504.0" cy="2350.4" r="9.9"/><circle class="g" cx="504.0" cy="2280.8" r="9.9"/><circle class="r" cx="457.4" cy="2360.3" r="9.9"/><circle class="g" cx="535.0" cy="2340.4" r="9.9"/><circle class="g" cx="473.0" cy="2320.5" r="9.9"/><circle class="g" cx="395.4" cy="2280.8" r="9.9"/><circle class="g" cx="317.9" cy="2340.4" r="9.9"/><circle class="g" cx="348.9" cy="2340.4" r="9.9"/><circle class="g" cx="333.4" cy="2340.4" r="9.9"/><circle class="g" cx="535.0" cy="2270.8" r="9.9"/><circle class="r" cx="317.9" cy="2300.7" r="9.9"/><circle class="g" cx="473.0" cy="2310.6" r="9.9"/><circle class="g" cx="488.5" cy="2350.4" r="9.9"/><circle class="g" cx="441.9" cy="2310.6" r="9.9"/><circle class="r" cx="395.4" cy="2241.0" r="9.9"/><circle class="r" cx="255.8" cy="2270.8" r="9.9"/><circle class="g" cx="348.9" cy="2330.5" r="9.9"/><circle class="g" cx="488.5" cy="2320.5" r="9.9"/><circle class="r" cx="333.4" cy="2251.0" r="9.9"/><circle class="g" cx="348.9" cy="2251.0" r="9.9"/><circle class="r" cx="441.9" cy="2251.0" r="9.9"/><circle class="r" cx="286.8" cy="2330.5" r="9.9"/><circle class="r" cx="255.8" cy="2241.0" r="9.9"/><circle class="g" cx="255.8" cy="2241.0" r="9.9"/><circle class="g" cx="457.4" cy="2320.5" r="9.9"/><circle class="r" cx="317.9" cy="2340.4" r="9.9"/><circle class="r" cx="302.3" cy="2360.3" r="9.9"/><circle class="r" cx="473.0" cy="2231.1" r="9.9"/><circle class="r" cx="410.9" cy="2310.6" r="9.9"/><circle class="r" cx="348.9" cy="2350.4" r="9.9"/><circle class="g" cx="255.8" cy="2280.8" r="9.9"/><circle class="r" cx="379.9" cy="2221.1" r="9.9"/><circle class="g" cx="240.3" cy="2290.7" r="9.9"/><circle class="g" cx="379.9" cy="2350.4" r="9.9"/><circle class="r" cx="348.9" cy="2241.0" r="9.9"/><circle class="r" cx="364.4" cy="2330.5" r="9.9"/><circle class="r" cx="364.4" cy="2310.6" r="9.9"/><circle class="g" cx="550.5" cy="2320.5" r="9.9"/><circle class="r" cx="302.3" cy="2251.0" r="9.9"/><circle class="g" cx="317.9" cy="2310.6" r="9.9"/><circle class="g" cx="364.4" cy="2320.5" r="9.9"/><circle class="r" cx="240.3" cy="2310.6" r="9.9"/><circle class="g" cx="519.5" cy="2350.4" r="9.9"/><circle class="r" cx="426.4" cy="2350.4" r="9.9"/><circle class="r" cx="519.5" cy="2300.7" r="9.9"/><circle class="g" cx="348.9" cy="2360.3" r="9.9"/><circle class="g" cx="333.4" cy="2350.4" r="9.9"/><circle class="g" cx="348.9" cy="2270.8" r="9.9"/><circle class="g" cx="395.4" cy="2330.5" r="9.9"/><circle class="r" cx="473.0" cy="2330.5" r="9.9"/><circle class="r" cx="317.9" cy="2270.8" r="9.9"/><circle class="r" cx="504.0" cy="2290.7" r="9.9"/><circle class="r" cx="286.8" cy="2241.0" r="9.9"/><circle class="r" cx="286.8" cy="2320.5" r="9.9"/><circle class="g" cx="426.4" cy="2300.7" r="9.9"/><circle class="g" cx="317.9" cy="2290.7" r="9.9"/><circle class="g" cx="271.3" cy="2320.5" r="9.9"/><circle class="r" cx="379.9" cy="2330.5" r="9.9"/><circle class="r" cx="271.3" cy="2330.5" r="9.9"/><circle class="r" cx="271.3" cy="2320.5" r="9.9"/><circle class="g" cx="550.5" cy="2350.4" r="9.9"/><circle class="g" cx="333.4" cy="2360.3" r="9.9"/><circle class="r" cx="379.9" cy="2360.3" r="9.9"/><circle class="r" cx="441.9" cy="2241.0" r="9.9"/><circle class="r" cx="457.4" cy="2241.0" r="9.9"/><circle class="g" cx="535.0" cy="2280.8" r="9.9"/><circle class="r" cx="271.3" cy="2300.7" r="9.9"/><circle class="g" cx="550.5" cy="2300.7" r="9.9"/><circle class="g" cx="519.5" cy="2360.3" r="9.9"/><circle class="g" cx="271.3" cy="2360.3" r="9.9"/><circle class="g" cx="488.5" cy="2330.5" r="9.9"/><circle class="g" cx="410.9" cy="2350.4" r="9.9"/><circle class="r" cx="410.9" cy="2330.5" r="9.9"/><circle class="g" cx="519.5" cy="2270.8" r="9.9"/><circle class="r" cx="379.9" cy="2300.7" r="9.9"/><circle class="r" cx="317.9" cy="2280.8" r="9.9"/><circle class="g" cx="504.0" cy="2300.7" r="9.9"/><circle class="g" cx="457.4" cy="2350.4" r="9.9"/><circle class="r" cx="286.8" cy="2270.8" r="9.9"/><circle class="g" cx="426.4" cy="2280.8" r="9.9"/><circle class="r" cx="504.0" cy="2340.4" r="9.9"/><circle class="r" cx="519.5" cy="2340.4" r="9.9"/><circle class="r" cx="379.9" cy="2320.5" r="9.9"/><circle class="g" cx="395.4" cy="2300.7" r="9.9"/><circle class="r" cx="317.9" cy="2320.5" r="9.9"/><circle class="r" cx="286.8" cy="2221.1" r="9.9"/><circle class="r" cx="519.5" cy="2310.6" r="9.9"/><circle class="r" cx="286.8" cy="2260.9" r="9.9"/><circle class="r" cx="302.3" cy="2231.1" r="9.9"/><circle class="g" cx="457.4" cy="2241.0" r="9.9"/><circle class="r" cx="488.5" cy="2360.3" r="9.9"/><circle class="r" cx="457.4" cy="2350.4" r="9.9"/><circle class="g" cx="426.4" cy="2270.8" r="9.9"/><circle class="g" cx="473.0" cy="2231.1" r="9.9"/><circle class="r" cx="333.4" cy="2221.1" r="9.9"/><circle class="g" cx="271.3" cy="2350.4" r="9.9"/><circle class="g" cx="488.5" cy="2270.8" r="9.9"/><circle class="g" cx="348.9" cy="2241.0" r="9.9"/><circle class="g" cx="535.0" cy="2350.4" r="9.9"/><circle class="r" cx="457.4" cy="2260.9" r="9.9"/><circle class="g" cx="473.0" cy="2360.3" r="9.9"/><circle class="g" cx="271.3" cy="2340.4" r="9.9"/><circle class="g" cx="364.4" cy="2251.0" r="9.9"/><circle class="g" cx="473.0" cy="2300.7" r="9.9"/><circle class="g" cx="488.5" cy="2360.3" r="9.9"/><circle class="r" cx="488.5" cy="2350.4" r="9.9"/><circle class="r" cx="488.5" cy="2340.4" r="9.9"/><circle class="r" cx="488.5" cy="2310.6" r="9.9"/><circle class="r" cx="488.5" cy="2280.8" r="9.9"/><circle class="r" cx="488.5" cy="2221.1" r="9.9"/><circle class="r" cx="504.0" cy="2360.3" r="9.9"/><circle class="g" cx="504.0" cy="2330.5" r="9.9"/><circle class="g" cx="504.0" cy="2270.8" r="9.9"/><circle class="g" cx="504.0" cy="2260.9" r="9.9"/><circle class="r" cx="504.0" cy="2251.0" r="9.9"/><circle class="g" cx="504.0" cy="2191.3" r="9.9"/><circle class="g" cx="519.5" cy="2350.4" r="9.9"/><circle class="r" cx="519.5" cy="2330.5" r="9.9"/><circle class="r" cx="519.5" cy="2300.7" r="9.9"/><circle class="r" cx="519.5" cy="2280.8" r="9.9"/><circle class="r" cx="519.5" cy="2270.8" r="9.9"/><circle class="g" cx="519.5" cy="2211.2" r="9.9"/><circle class="g" cx="519.5" cy="2201.3" r="9.9"/><circle class="r" cx="519.5" cy="2181.4" r="9.9"/><circle class="g" cx="535.0" cy="2350.4" r="9.9"/><circle class="r" cx="535.0" cy="2320.5" r="9.9"/><circle class="g" cx="535.0" cy="2300.7" r="9.9"/><circle class="g" cx="535.0" cy="2280.8" r="9.9"/><circle class="g" cx="535.0" cy="2270.8" r="9.9"/><circle class="g" cx="550.5" cy="2360.3" r="9.9"/><circle class="g" cx="550.5" cy="2350.4" r="9.9"/><circle class="g" cx="550.5" cy="2320.5" r="9.9"/><circle class="r" cx="550.5" cy="2300.7" r="9.9"/><circle class="g" cx="550.5" cy="2290.7" r="9.9"/><circle class="r" cx="550.5" cy="2260.9" r="9.9"/><circle class="g" cx="550.5" cy="2221.1" r="9.9"/><circle class="g" cx="566.0" cy="2360.3" r="9.9"/><circle class="g" cx="566.0" cy="2350.4" r="9.9"/><circle class="g" cx="566.0" cy="2340.4" r="9.9"/><circle class="r" cx="566.0" cy="2300.7" r="9.9"/><circle class="r" cx="581.5" cy="2350.4" r="9.9"/><circle class="r" cx="581.5" cy="2340.4" r="9.9"/><circle class="r" cx="581.5" cy="2330.5" r="9.9"/><circle class="g" cx="581.5" cy="2320.5" r="9.9"/><circle class="r" cx="581.5" cy="2310.6" r="9.9"/><circle class="g" cx="581.5" cy="2290.7" r="9.9"/><circle class="r" cx="581.5" cy="2270.8" r="9.9"/><circle class="g" cx="581.5" cy="2260.9" r="9.9"/><circle class="g" cx="581.5" cy="2251.0" r="9.9"/><circle class="g" cx="581.5" cy="2241.0" r="9.9"/><circle class="g" cx="581.5" cy="2191.3" r="9.9"/><circle class="r" cx="597.0" cy="2360.3" r="9.9"/><circle class="r" cx="597.0" cy="2350.4" r="9.9"/><circle class="g" cx="597.0" cy="2340.4" r="9.9"/><circle class="g" cx="597.0" cy="2310.6" r="9.9"/><circle class="g" cx="597.0" cy="2300.7" r="9.9"/><circle class="r" cx="597.0" cy="2290.7" r="9.9"/><circle class="g" cx="597.0" cy="2280.8" r="9.9"/><circle class="g" cx="597.0" cy="2231.1" r="9.9"/><circle class="r" cx="597.0" cy="2201.3" r="9.9"/><circle class="g" cx="597.0" cy="2191.3" r="9.9"/><circle class="g" cx="612.5" cy="2360.3" r="9.9"/><circle class="g" cx="612.5" cy="2350.4" r="9.9"/><circle class="g" cx="612.5" cy="2330.5" r="9.9"/><circle class="g" cx="612.5" cy="2270.8" r="9.9"/><circle class="r" cx="628.0" cy="2360.3" r="9.9"/><circle class="r" cx="628.0" cy="2350.4" r="9.9"/><circle class="g" cx="628.0" cy="2340.4" r="9.9"/><circle class="g" cx="628.0" cy="2320.5" r="9.9"/><circle class="g" cx="628.0" cy="2310.6" r="9.9"/><circle class="g" cx="628.0" cy="2300.7" r="9.9"/><circle class="r" cx="628.0" cy="2280.8" r="9.9"/><circle class="r" cx="628.0" cy="2221.1" r="9.9"/><circle class="r" cx="628.0" cy="2191.3" r="9.9"/><circle class="g" cx="643.6" cy="2320.5" r="9.9"/><circle class="r" cx="643.6" cy="2280.8" r="9.9"/><circle class="r" cx="643.6" cy="2201.3" r="9.9"/><circle class="r" cx="659.1" cy="2350.4" r="9.9"/><circle class="r" cx="659.1" cy="2330.5" r="9.9"/><circle class="r" cx="659.1" cy="2310.6" r="9.9"/><circle class="r" cx="659.1" cy="2300.7" r="9.9"/><circle class="g" cx="659.1" cy="2270.8" r="9.9"/><circle class="g" cx="674.6" cy="2360.3" r="9.9"/><circle class="g" cx="674.6" cy="2340.4" r="9.9"/><circle class="g" cx="674.6" cy="2330.5" r="9.9"/><circle class="g" cx="674.6" cy="2320.5" r="9.9"/><circle class="g" cx="674.6" cy="2300.7" r="9.9"/><circle class="g" cx="674.6" cy="2300.7" r="9.9"/><circle class="g" cx="317.9" cy="2121.7" r="9.9"/><circle class="g" cx="364.4" cy="2121.7" r="9.9"/><circle class="g" cx="457.4" cy="2111.8" r="9.9"/><circle class="g" cx="473.0" cy="2131.7" r="9.9"/><circle class="g" cx="410.9" cy="2201.3" r="9.9"/><circle class="g" cx="410.9" cy="2221.1" r="9.9"/><circle class="g" cx="473.0" cy="2201.3" r="9.9"/><circle class="g" cx="566.0" cy="2141.6" r="9.9"/><circle class="r" cx="240.3" cy="2171.4" r="9.9"/><circle class="r" cx="255.8" cy="2191.3" r="9.9"/><circle class="r" cx="271.3" cy="2151.6" r="9.9"/><circle class="r" cx="271.3" cy="2161.5" r="9.9"/><circle class="r" cx="271.3" cy="2211.2" r="9.9"/><circle class="r" cx="348.9" cy="2101.9" r="9.9"/><circle class="r" cx="379.9" cy="2101.9" r="9.9"/><circle class="r" cx="395.4" cy="2072.0" r="9.9"/><circle class="r" cx="348.9" cy="2141.6" r="9.9"/><circle class="r" cx="364.4" cy="2141.6" r="9.9"/><circle class="r" cx="348.9" cy="2181.4" r="9.9"/><circle class="r" cx="333.4" cy="2201.3" r="9.9"/><circle class="r" cx="317.9" cy="2211.2" r="9.9"/><circle class="r" cx="302.3" cy="2221.1" r="9.9"/><circle class="r" cx="364.4" cy="2201.3" r="9.9"/><circle class="r" cx="379.9" cy="2201.3" r="9.9"/><circle class="r" cx="364.4" cy="2211.2" r="9.9"/><circle class="r" cx="379.9" cy="2161.5" r="9.9"/><circle class="r" cx="395.4" cy="2161.5" r="9.9"/><circle class="r" cx="395.4" cy="2171.4" r="9.9"/><circle class="r" cx="395.4" cy="2181.4" r="9.9"/><circle class="r" cx="410.9" cy="2131.7" r="9.9"/><circle class="r" cx="410.9" cy="2151.6" r="9.9"/><circle class="r" cx="410.9" cy="2161.5" r="9.9"/><circle class="r" cx="410.9" cy="2191.3" r="9.9"/><circle class="r" cx="426.4" cy="2101.9" r="9.9"/><circle class="r" cx="426.4" cy="2121.7" r="9.9"/><circle class="r" cx="426.4" cy="2141.6" r="9.9"/><circle class="r" cx="426.4" cy="2181.4" r="9.9"/><circle class="r" cx="441.9" cy="2111.8" r="9.9"/><circle class="r" cx="457.4" cy="2082.0" r="9.9"/><circle class="r" cx="457.4" cy="2121.7" r="9.9"/><circle class="r" cx="457.4" cy="2131.7" r="9.9"/><circle class="r" cx="457.4" cy="2141.6" r="9.9"/><circle class="r" cx="457.4" cy="2151.6" r="9.9"/><circle class="r" cx="457.4" cy="2191.3" r="9.9"/><circle class="r" cx="457.4" cy="2201.3" r="9.9"/><circle class="r" cx="457.4" cy="2211.2" r="9.9"/><circle class="r" cx="473.0" cy="2151.6" r="9.9"/><circle class="r" cx="473.0" cy="2181.4" r="9.9"/><circle class="r" cx="473.0" cy="2221.1" r="9.9"/><circle class="r" cx="441.9" cy="2211.2" r="9.9"/><circle class="r" cx="441.9" cy="2221.1" r="9.9"/><circle class="r" cx="488.5" cy="2072.0" r="9.9"/><circle class="r" cx="488.5" cy="2091.9" r="9.9"/><circle class="r" cx="488.5" cy="2171.4" r="9.9"/><circle class="r" cx="504.0" cy="2111.8" r="9.9"/><circle class="r" cx="519.5" cy="2121.7" r="9.9"/><circle class="r" cx="519.5" cy="2141.6" r="9.9"/><circle class="r" cx="535.0" cy="2082.0" r="9.9"/><circle class="r" cx="535.0" cy="2121.7" r="9.9"/><circle class="r" cx="535.0" cy="2171.4" r="9.9"/><circle class="r" cx="550.5" cy="2062.1" r="9.9"/><circle class="r" cx="550.5" cy="2082.0" r="9.9"/><circle class="r" cx="550.5" cy="2111.8" r="9.9"/><circle class="r" cx="566.0" cy="2171.4" r="9.9"/><circle class="r" cx="597.0" cy="2101.9" r="9.9"/><circle class="r" cx="597.0" cy="2171.4" r="9.9"/><circle class="r" cx="628.0" cy="1843.4" r="9.9"/><circle class="r" cx="752.1" cy="1863.3" r="9.9"/><circle class="r" cx="674.6" cy="1903.1" r="9.9"/><circle class="r" cx="752.1" cy="1922.9" r="9.9"/><circle class="r" cx="566.0" cy="1932.9" r="9.9"/><circle class="r" cx="488.5" cy="1972.6" r="9.9"/><circle class="r" cx="597.0" cy="1972.6" r="9.9"/><circle class="r" cx="612.5" cy="1992.5" r="9.9"/><circle class="r" cx="628.0" cy="2002.5" r="9.9"/><circle class="r" cx="674.6" cy="2002.5" r="9.9"/><circle class="r" cx="783.2" cy="1992.5" r="9.9"/><circle class="r" cx="659.1" cy="2022.3" r="9.9"/><circle class="r" cx="504.0" cy="2042.2" r="9.9"/><circle class="r" cx="535.0" cy="2042.2" r="9.9"/><circle class="r" cx="597.0" cy="2042.2" r="9.9"/><circle class="r" cx="643.6" cy="2052.2" r="9.9"/><circle class="r" cx="659.1" cy="2072.0" r="9.9"/><circle class="r" cx="628.0" cy="2111.8" r="9.9"/><circle class="r" cx="628.0" cy="2161.5" r="9.9"/><circle class="r" cx="457.4" cy="2082.0" r="9.9"/><circle class="r" cx="426.4" cy="2101.9" r="9.9"/><circle class="r" cx="348.9" cy="2141.6" r="9.9"/><circle class="r" cx="519.5" cy="2141.6" r="9.9"/><circle class="r" cx="457.4" cy="2141.6" r="9.9"/><circle class="g" cx="922.7" cy="2111.8" r="9.9"/><circle class="g" cx="953.8" cy="2141.6" r="9.9"/><circle class="g" cx="814.2" cy="2181.4" r="9.9"/><circle class="g" cx="690.1" cy="2191.3" r="9.9"/><circle class="g" cx="783.2" cy="2201.3" r="9.9"/><circle class="g" cx="783.2" cy="2211.2" r="9.9"/><circle class="g" cx="829.7" cy="2201.3" r="9.9"/><circle class="g" cx="845.2" cy="2211.2" r="9.9"/><circle class="g" cx="860.7" cy="2191.3" r="9.9"/><circle class="g" cx="876.2" cy="2201.3" r="9.9"/><circle class="g" cx="922.7" cy="2201.3" r="9.9"/><circle class="g" cx="767.6" cy="2251.0" r="9.9"/><circle class="g" cx="783.2" cy="2251.0" r="9.9"/><circle class="g" cx="798.7" cy="2280.8" r="9.9"/><circle class="g" cx="705.6" cy="2290.7" r="9.9"/><circle class="g" cx="721.1" cy="2310.6" r="9.9"/><circle class="g" cx="736.6" cy="2310.6" r="9.9"/><circle class="g" cx="783.2" cy="2310.6" r="9.9"/><circle class="g" cx="690.1" cy="2320.5" r="9.9"/><circle class="g" cx="705.6" cy="2320.5" r="9.9"/><circle class="g" cx="845.2" cy="2320.5" r="9.9"/><circle class="g" cx="690.1" cy="2330.5" r="9.9"/><circle class="g" cx="752.1" cy="2330.5" r="9.9"/><circle class="g" cx="705.6" cy="2350.4" r="9.9"/><circle class="g" cx="922.7" cy="2350.4" r="9.9"/><circle class="g" cx="721.1" cy="2360.3" r="9.9"/><circle class="g" cx="876.2" cy="2360.3" r="9.9"/><circle class="r" cx="705.6" cy="2211.2" r="9.9"/><circle class="r" cx="690.1" cy="2340.4" r="9.9"/><circle class="r" cx="845.2" cy="2340.4" r="9.9"/><circle class="r" cx="690.1" cy="2350.4" r="9.9"/><circle class="r" cx="721.1" cy="2350.4" r="9.9"/><circle class="r" cx="736.6" cy="2350.4" r="9.9"/><circle class="r" cx="767.6" cy="2350.4" r="9.9"/><circle class="r" cx="690.1" cy="2360.3" r="9.9"/><circle class="r" cx="829.7" cy="2360.3" r="9.9"/><circle class="g" cx="752.1" cy="2330.5" r="9.9"/><circle class="r" cx="1217.4" cy="2360.3" r="9.9"/><circle class="g" cx="1139.9" cy="2241.0" r="9.9"/><circle class="g" cx="1139.9" cy="2260.9" r="9.9"/><circle class="g" cx="1139.9" cy="2310.6" r="9.9"/><circle class="g" cx="1217.4" cy="2300.7" r="9.9"/><circle class="g" cx="1264.0" cy="2310.6" r="9.9"/><circle class="g" cx="1357.0" cy="2241.0" r="9.9"/><circle class="g" cx="1155.4" cy="2340.4" r="9.9"/><circle class="g" cx="1232.9" cy="2340.4" r="9.9"/><circle class="g" cx="1201.9" cy="2350.4" r="9.9"/><circle class="g" cx="1217.4" cy="2350.4" r="9.9"/><circle class="g" cx="1341.5" cy="2350.4" r="9.9"/><circle class="g" cx="1139.9" cy="2360.3" r="9.9"/><circle class="g" cx="1186.4" cy="2360.3" r="9.9"/><circle class="g" cx="1264.0" cy="2360.3" r="9.9"/><circle class="g" cx="1295.0" cy="2360.3" r="9.9"/><circle class="g" cx="1139.9" cy="2310.6" r="9.9"/><circle class="r" cx="1232.9" cy="2221.1" r="9.9"/><circle class="r" cx="1155.4" cy="2350.4" r="9.9"/><circle class="g" cx="1093.3" cy="2072.0" r="9.9"/>
</g>
<g stroke="#000" stroke-linecap="butt"><line x1="187.5" y1="14.9" x2="187.5" y2="771.5" stroke-width="4.6"/><line x1="70.3" y1="759.7" x2="1490.0" y2="759.7" stroke-width="4.4"/><line x1="151.7" y1="17.0" x2="187.5" y2="17.0" stroke-width="4.0"/><line x1="151.7" y1="90.5" x2="187.5" y2="90.5" stroke-width="4.0"/><line x1="151.7" y1="164.1" x2="187.5" y2="164.1" stroke-width="4.0"/><line x1="151.7" y1="237.6" x2="187.5" y2="237.6" stroke-width="4.0"/><line x1="151.7" y1="311.2" x2="187.5" y2="311.2" stroke-width="4.0"/><line x1="151.7" y1="384.8" x2="187.5" y2="384.8" stroke-width="4.0"/><line x1="151.7" y1="458.3" x2="187.5" y2="458.3" stroke-width="4.0"/><line x1="151.7" y1="531.9" x2="187.5" y2="531.9" stroke-width="4.0"/><line x1="151.7" y1="605.4" x2="187.5" y2="605.4" stroke-width="4.0"/><line x1="151.7" y1="678.9" x2="187.5" y2="678.9" stroke-width="4.0"/><line x1="316.9" y1="753.5" x2="316.9" y2="771.5" stroke-width="4.4"/><line x1="446.3" y1="753.5" x2="446.3" y2="771.5" stroke-width="4.4"/><line x1="575.7" y1="753.5" x2="575.7" y2="771.5" stroke-width="4.4"/><line x1="705.1" y1="753.5" x2="705.1" y2="771.5" stroke-width="4.4"/><line x1="834.5" y1="753.5" x2="834.5" y2="771.5" stroke-width="4.4"/><line x1="963.9" y1="753.5" x2="963.9" y2="771.5" stroke-width="4.4"/><line x1="1093.3" y1="753.5" x2="1093.3" y2="771.5" stroke-width="4.4"/><line x1="1222.7" y1="753.5" x2="1222.7" y2="771.5" stroke-width="4.4"/><line x1="1352.1" y1="753.5" x2="1352.1" y2="771.5" stroke-width="4.4"/><line x1="1481.5" y1="753.5" x2="1481.5" y2="771.5" stroke-width="4.4"/><line x1="187.0" y1="882.7" x2="187.0" y2="1636.8" stroke-width="4.6"/><line x1="61.3" y1="1618.6" x2="1479.2" y2="1618.6" stroke-width="4.3"/><line x1="154.3" y1="884.4" x2="187.0" y2="884.4" stroke-width="3.4"/><line x1="154.3" y1="957.9" x2="187.0" y2="957.9" stroke-width="3.4"/><line x1="154.3" y1="1031.5" x2="187.0" y2="1031.5" stroke-width="3.4"/><line x1="154.3" y1="1105.0" x2="187.0" y2="1105.0" stroke-width="3.4"/><line x1="154.3" y1="1178.6" x2="187.0" y2="1178.6" stroke-width="3.4"/><line x1="154.3" y1="1252.2" x2="187.0" y2="1252.2" stroke-width="3.4"/><line x1="154.3" y1="1325.7" x2="187.0" y2="1325.7" stroke-width="3.4"/><line x1="154.3" y1="1399.2" x2="187.0" y2="1399.2" stroke-width="3.4"/><line x1="154.3" y1="1472.8" x2="187.0" y2="1472.8" stroke-width="3.4"/><line x1="154.3" y1="1546.3" x2="187.0" y2="1546.3" stroke-width="3.4"/><line x1="316.0" y1="1618.6" x2="316.0" y2="1636.8" stroke-width="4.2"/><line x1="445.0" y1="1618.6" x2="445.0" y2="1636.8" stroke-width="4.2"/><line x1="574.0" y1="1618.6" x2="574.0" y2="1636.8" stroke-width="4.2"/><line x1="703.0" y1="1618.6" x2="703.0" y2="1636.8" stroke-width="4.2"/><line x1="832.0" y1="1618.6" x2="832.0" y2="1636.8" stroke-width="4.2"/><line x1="961.0" y1="1618.6" x2="961.0" y2="1636.8" stroke-width="4.2"/><line x1="1090.0" y1="1618.6" x2="1090.0" y2="1636.8" stroke-width="4.2"/><line x1="1219.0" y1="1618.6" x2="1219.0" y2="1636.8" stroke-width="4.2"/><line x1="1348.0" y1="1618.6" x2="1348.0" y2="1636.8" stroke-width="4.2"/><line x1="1476.8" y1="1618.6" x2="1476.8" y2="1636.8" stroke-width="4.2"/><line x1="189.8" y1="1805.6" x2="189.8" y2="2463.5" stroke-width="4.6"/><line x1="64.5" y1="2426.8" x2="1479.2" y2="2426.8" stroke-width="4.4"/><line x1="151.5" y1="1807.6" x2="189.8" y2="1807.6" stroke-width="3.8"/><line x1="151.5" y1="1880.9" x2="189.8" y2="1880.9" stroke-width="3.8"/><line x1="151.5" y1="1954.2" x2="189.8" y2="1954.2" stroke-width="3.8"/><line x1="151.5" y1="2027.4" x2="189.8" y2="2027.4" stroke-width="3.8"/><line x1="151.5" y1="2100.7" x2="189.8" y2="2100.7" stroke-width="3.8"/><line x1="151.5" y1="2174.0" x2="189.8" y2="2174.0" stroke-width="3.8"/><line x1="151.5" y1="2247.3" x2="189.8" y2="2247.3" stroke-width="3.8"/><line x1="151.5" y1="2320.6" x2="189.8" y2="2320.6" stroke-width="3.8"/><line x1="151.5" y1="2393.8" x2="189.8" y2="2393.8" stroke-width="3.8"/><line x1="318.5" y1="2426.8" x2="318.5" y2="2444.8" stroke-width="4.3"/><line x1="447.2" y1="2426.8" x2="447.2" y2="2444.8" stroke-width="4.3"/><line x1="576.0" y1="2426.8" x2="576.0" y2="2444.8" stroke-width="4.3"/><line x1="704.7" y1="2426.8" x2="704.7" y2="2444.8" stroke-width="4.3"/><line x1="833.4" y1="2426.8" x2="833.4" y2="2444.8" stroke-width="4.3"/><line x1="962.1" y1="2426.8" x2="962.1" y2="2444.8" stroke-width="4.3"/><line x1="1090.8" y1="2426.8" x2="1090.8" y2="2444.8" stroke-width="4.3"/><line x1="1219.6" y1="2426.8" x2="1219.6" y2="2444.8" stroke-width="4.3"/><line x1="1348.3" y1="2426.8" x2="1348.3" y2="2444.8" stroke-width="4.3"/><line x1="1476.8" y1="2426.8" x2="1476.8" y2="2444.8" stroke-width="4.3"/></g>
<g font-family='"Liberation Serif", "DejaVu Serif", serif' font-weight="bold" fill="#000"><text transform="translate(105.7,32.1) scale(1,1.045)" font-size="43.5" text-anchor="middle">600</text><text transform="translate(105.7,105.6) scale(1,1.045)" font-size="43.5" text-anchor="middle">540</text><text transform="translate(105.7,179.2) scale(1,1.045)" font-size="43.5" text-anchor="middle">480</text><text transform="translate(105.7,252.7) scale(1,1.045)" font-size="43.5" text-anchor="middle">420</text><text transform="translate(105.7,326.3) scale(1,1.045)" font-size="43.5" text-anchor="middle">360</text><text transform="translate(105.7,399.9) scale(1,1.045)" font-size="43.5" text-anchor="middle">300</text><text transform="translate(105.7,473.4) scale(1,1.045)" font-size="43.5" text-anchor="middle">240</text><text transform="translate(105.7,547.0) scale(1,1.045)" font-size="43.5" text-anchor="middle">180</text><text transform="translate(105.7,620.5) scale(1,1.045)" font-size="43.5" text-anchor="middle">120</text><text transform="translate(105.7,694.0) scale(1,1.045)" font-size="43.5" text-anchor="middle">60</text><text transform="translate(311.5,814.6) scale(1,1.045)" font-size="43.5" text-anchor="middle">80</text><text transform="translate(447.3,814.6) scale(1,1.045)" font-size="43.5" text-anchor="middle">160</text><text transform="translate(576.7,814.6) scale(1,1.045)" font-size="43.5" text-anchor="middle">240</text><text transform="translate(706.1,814.6) scale(1,1.045)" font-size="43.5" text-anchor="middle">320</text><text transform="translate(835.5,814.6) scale(1,1.045)" font-size="43.5" text-anchor="middle">400</text><text transform="translate(964.9,814.6) scale(1,1.045)" font-size="43.5" text-anchor="middle">480</text><text transform="translate(1094.3,814.6) scale(1,1.045)" font-size="43.5" text-anchor="middle">560</text><text transform="translate(1223.7,814.6) scale(1,1.045)" font-size="43.5" text-anchor="middle">640</text><text transform="translate(1353.1,814.6) scale(1,1.045)" font-size="43.5" text-anchor="middle">720</text><text transform="translate(1482.5,814.6) scale(1,1.045)" font-size="43.5" text-anchor="middle">800</text><text transform="translate(204.6,56.8) scale(1,1.02)" font-size="59.5" text-anchor="start">UCMB5007</text><text transform="translate(1328.2,737.7) scale(1,1.06)" font-size="51.5" text-anchor="start">Coverage</text><text transform="translate(38.2,386) rotate(-90) scale(1,1.06)" font-size="51.5" text-anchor="middle">QV Score</text><text transform="translate(103.5,890.4) scale(1,1.045)" font-size="43.5" text-anchor="middle">600</text><text transform="translate(103.5,963.9) scale(1,1.045)" font-size="43.5" text-anchor="middle">540</text><text transform="translate(103.5,1037.5) scale(1,1.045)" font-size="43.5" text-anchor="middle">480</text><text transform="translate(103.5,1111.0) scale(1,1.045)" font-size="43.5" text-anchor="middle">420</text><text transform="translate(103.5,1184.6) scale(1,1.045)" font-size="43.5" text-anchor="middle">360</text><text transform="translate(103.5,1258.2) scale(1,1.045)" font-size="43.5" text-anchor="middle">300</text><text transform="translate(103.5,1331.7) scale(1,1.045)" font-size="43.5" text-anchor="middle">240</text><text transform="translate(103.5,1405.2) scale(1,1.045)" font-size="43.5" text-anchor="middle">180</text><text transform="translate(103.5,1478.8) scale(1,1.045)" font-size="43.5" text-anchor="middle">120</text><text transform="translate(103.5,1552.3) scale(1,1.045)" font-size="43.5" text-anchor="middle">60</text><text transform="translate(316.8,1679.8) scale(1,1.045)" font-size="43.5" text-anchor="middle">80</text><text transform="translate(452.0,1679.8) scale(1,1.045)" font-size="43.5" text-anchor="middle">160</text><text transform="translate(581.0,1679.8) scale(1,1.045)" font-size="43.5" text-anchor="middle">240</text><text transform="translate(710.0,1679.8) scale(1,1.045)" font-size="43.5" text-anchor="middle">320</text><text transform="translate(839.0,1679.8) scale(1,1.045)" font-size="43.5" text-anchor="middle">400</text><text transform="translate(968.0,1679.8) scale(1,1.045)" font-size="43.5" text-anchor="middle">480</text><text transform="translate(1097.0,1679.8) scale(1,1.045)" font-size="43.5" text-anchor="middle">560</text><text transform="translate(1226.0,1679.8) scale(1,1.045)" font-size="43.5" text-anchor="middle">640</text><text transform="translate(1355.0,1679.8) scale(1,1.045)" font-size="43.5" text-anchor="middle">720</text><text transform="translate(1483.8,1679.8) scale(1,1.045)" font-size="43.5" text-anchor="middle">800</text><text transform="translate(204.6,924.0) scale(1,1.02)" font-size="59.5" text-anchor="start">UCMB5044</text><text transform="translate(1333.0,1596.0) scale(1,1.06)" font-size="51.5" text-anchor="start">Coverage</text><text transform="translate(38.2,1248.4) rotate(-90) scale(1,1.06)" font-size="51.5" text-anchor="middle">QV Score</text><text transform="translate(116.0,1808.2) scale(1,1.045)" font-size="43.5" text-anchor="middle">80</text><text transform="translate(116.0,1881.5) scale(1,1.045)" font-size="43.5" text-anchor="middle">72</text><text transform="translate(116.0,1954.8) scale(1,1.045)" font-size="43.5" text-anchor="middle">64</text><text transform="translate(116.0,2028.0) scale(1,1.045)" font-size="43.5" text-anchor="middle">56</text><text transform="translate(116.0,2101.3) scale(1,1.045)" font-size="43.5" text-anchor="middle">48</text><text transform="translate(116.0,2174.6) scale(1,1.045)" font-size="43.5" text-anchor="middle">40</text><text transform="translate(116.0,2247.9) scale(1,1.045)" font-size="43.5" text-anchor="middle">32</text><text transform="translate(116.0,2321.2) scale(1,1.045)" font-size="43.5" text-anchor="middle">24</text><text transform="translate(116.0,2394.4) scale(1,1.045)" font-size="43.5" text-anchor="middle">16</text><text transform="translate(320.7,2494.6) scale(1,1.045)" font-size="43.5" text-anchor="middle">9</text><text transform="translate(454.6,2494.6) scale(1,1.045)" font-size="43.5" text-anchor="middle">18</text><text transform="translate(583.4,2494.6) scale(1,1.045)" font-size="43.5" text-anchor="middle">27</text><text transform="translate(712.1,2494.6) scale(1,1.045)" font-size="43.5" text-anchor="middle">36</text><text transform="translate(840.8,2494.6) scale(1,1.045)" font-size="43.5" text-anchor="middle">45</text><text transform="translate(969.5,2494.6) scale(1,1.045)" font-size="43.5" text-anchor="middle">54</text><text transform="translate(1098.2,2494.6) scale(1,1.045)" font-size="43.5" text-anchor="middle">63</text><text transform="translate(1227.0,2494.6) scale(1,1.045)" font-size="43.5" text-anchor="middle">72</text><text transform="translate(1355.7,2494.6) scale(1,1.045)" font-size="43.5" text-anchor="middle">81</text><text transform="translate(1484.2,2494.6) scale(1,1.045)" font-size="43.5" text-anchor="middle">90</text><text transform="translate(204.0,1835.2) scale(1,1.02)" font-size="59.5" text-anchor="start">At1</text><text transform="translate(1333.0,2411.0) scale(1,1.06)" font-size="51.5" text-anchor="start">Coverage</text><text transform="translate(42.7,2068.7) rotate(-90) scale(1,1.06)" font-size="51.5" text-anchor="middle">QV Score</text><text transform="translate(1475.0,275.0) scale(1,1.06)" font-size="51.5" text-anchor="start">- m6A;</text><text transform="translate(1474.0,362.1) scale(1,1.06)" font-size="51.5" text-anchor="start">- m4C;</text><text transform="translate(1475.0,1191.8) scale(1,1.06)" font-size="51.5" text-anchor="start">- m6A;</text><text transform="translate(1474.0,1278.9) scale(1,1.06)" font-size="51.5" text-anchor="start">- m4C;</text><text transform="translate(1475.0,2048.4) scale(1,1.06)" font-size="51.5" text-anchor="start">- m6A;</text><text transform="translate(1474.0,2135.5) scale(1,1.06)" font-size="51.5" text-anchor="start">- m4C;</text></g>
<circle cx="1450.9" cy="267.3" r="12.1" fill="#ff3333" stroke="#000" stroke-width="5.6"/><circle cx="1449.8" cy="354.5" r="12.1" fill="#338533" stroke="#000" stroke-width="5.6"/><circle cx="1450.9" cy="1184.0" r="12.1" fill="#ff3333" stroke="#000" stroke-width="5.6"/><circle cx="1449.8" cy="1271.6" r="12.1" fill="#338533" stroke="#000" stroke-width="5.6"/><circle cx="1450.9" cy="2040.6" r="12.1" fill="#ff3333" stroke="#000" stroke-width="5.6"/><circle cx="1449.8" cy="2128.2" r="12.1" fill="#338533" stroke="#000" stroke-width="5.6"/>
</svg>
</body>
</html>
